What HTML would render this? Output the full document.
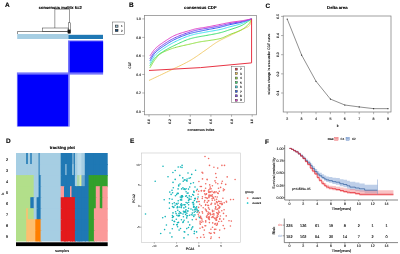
<!DOCTYPE html>
<html><head><meta charset="utf-8"><style>
html,body{margin:0;padding:0;background:#fff;}
svg{display:block;will-change:transform;}
text{font-family:"Liberation Sans",sans-serif;text-rendering:geometricPrecision;}
</style></head><body>
<svg width="400" height="254" viewBox="0 0 400 254">
<rect x="0" y="0" width="400" height="254" fill="#fff"/>
<text transform="translate(5 7.2) scale(0.1)" font-size="65.00" font-weight="bold" text-anchor="start" fill="#000" stroke="#000" stroke-width="1.20">A</text>
<text transform="translate(38.7 8.6) scale(0.1)" font-size="41.00" font-weight="bold" text-anchor="start" fill="#000" stroke="#000" stroke-width="1.20">consensus matrix k=2</text>
<line x1="54.8" y1="9.2" x2="69.5" y2="9.2" stroke="#222" stroke-width="0.45"/>
<line x1="54.8" y1="9.2" x2="54.8" y2="28" stroke="#222" stroke-width="0.45"/>
<line x1="69.5" y1="9.2" x2="69.5" y2="22.8" stroke="#222" stroke-width="0.45"/>
<rect x="68.4" y="22.8" width="2.2" height="10.5" fill="none" stroke="#222" stroke-width="0.45"/>
<rect x="42.5" y="28" width="25.6" height="3.5" fill="none" stroke="#222" stroke-width="0.45"/>
<polyline points="17.50,34.00 17.50,31.50 67.80,31.50" fill="none" stroke="#222" stroke-width="0.5"/>
<rect x="67.6" y="29.6" width="3.0" height="3.7" fill="#111"/>
<rect x="17.2" y="34" width="51.2" height="5.0" fill="#A6CEE3"/>
<rect x="68.4" y="34.8" width="34.6" height="4.2" fill="#1F78B4"/>
<rect x="16.9" y="72.4" width="52.8" height="54.2" fill="#7474FC"/>
<rect x="68.0" y="40.4" width="35.1" height="34.2" fill="#7474FC"/>
<rect x="17.8" y="74.6" width="50.2" height="51.6" fill="#0000FC"/>
<rect x="69.7" y="41.4" width="33.4" height="31.0" fill="#0000FC"/>
<rect x="112.3" y="22" width="12.1" height="12.3" fill="#fff" stroke="#333" stroke-width="0.4"/>
<rect x="115.3" y="25.1" width="2.7" height="2.1" fill="#A6CEE3" stroke="#222" stroke-width="0.6"/>
<rect x="115.3" y="29.3" width="2.7" height="2.1" fill="#1A4F80" stroke="#222" stroke-width="0.6"/>
<text transform="translate(121.8 27.3) scale(0.1)" font-size="30.00" text-anchor="middle" fill="#222" stroke="#222" stroke-width="1.20">1</text>
<text transform="translate(121.8 31.5) scale(0.1)" font-size="30.00" text-anchor="middle" fill="#222" stroke="#222" stroke-width="1.20">2</text>
<text transform="translate(129 6.7) scale(0.1)" font-size="65.00" font-weight="bold" text-anchor="start" fill="#000" stroke="#000" stroke-width="1.20">B</text>
<text transform="translate(200.3 9.2) scale(0.1)" font-size="43.00" font-weight="bold" text-anchor="middle" fill="#000" stroke="#000" stroke-width="1.20">consensus CDF</text>
<rect x="144.5" y="15.4" width="111.9" height="99.4" fill="none" stroke="#888" stroke-width="0.75"/>
<line x1="142.2" y1="18.9" x2="144.5" y2="18.9" stroke="#666" stroke-width="0.5"/>
<text transform="translate(141.0 20.049999999999997) scale(0.1)" font-size="34.00" text-anchor="end" fill="#111" stroke="#111" stroke-width="1.20">1.0</text>
<line x1="142.2" y1="37.42" x2="144.5" y2="37.42" stroke="#666" stroke-width="0.5"/>
<text transform="translate(141.0 38.57) scale(0.1)" font-size="34.00" text-anchor="end" fill="#111" stroke="#111" stroke-width="1.20">0.8</text>
<line x1="142.2" y1="55.94" x2="144.5" y2="55.94" stroke="#666" stroke-width="0.5"/>
<text transform="translate(141.0 57.089999999999996) scale(0.1)" font-size="34.00" text-anchor="end" fill="#111" stroke="#111" stroke-width="1.20">0.6</text>
<line x1="142.2" y1="74.46000000000001" x2="144.5" y2="74.46000000000001" stroke="#666" stroke-width="0.5"/>
<text transform="translate(141.0 75.61000000000001) scale(0.1)" font-size="34.00" text-anchor="end" fill="#111" stroke="#111" stroke-width="1.20">0.4</text>
<line x1="142.2" y1="92.97999999999999" x2="144.5" y2="92.97999999999999" stroke="#666" stroke-width="0.5"/>
<text transform="translate(141.0 94.13) scale(0.1)" font-size="34.00" text-anchor="end" fill="#111" stroke="#111" stroke-width="1.20">0.2</text>
<line x1="142.2" y1="111.5" x2="144.5" y2="111.5" stroke="#666" stroke-width="0.5"/>
<text transform="translate(141.0 112.65) scale(0.1)" font-size="34.00" text-anchor="end" fill="#111" stroke="#111" stroke-width="1.20">0.0</text>
<text transform="translate(131.4 65.3) rotate(-90) scale(0.1)" font-size="34.00" text-anchor="middle" fill="#111" stroke="#111" stroke-width="1.20">CDF</text>
<line x1="149.0" y1="114.8" x2="149.0" y2="116.8" stroke="#666" stroke-width="0.5"/>
<text transform="translate(150.2 121.4) rotate(-90) scale(0.1)" font-size="34.00" text-anchor="middle" fill="#111" stroke="#111" stroke-width="1.20">0.0</text>
<line x1="169.64" y1="114.8" x2="169.64" y2="116.8" stroke="#666" stroke-width="0.5"/>
<text transform="translate(170.83999999999997 121.4) rotate(-90) scale(0.1)" font-size="34.00" text-anchor="middle" fill="#111" stroke="#111" stroke-width="1.20">0.2</text>
<line x1="190.28" y1="114.8" x2="190.28" y2="116.8" stroke="#666" stroke-width="0.5"/>
<text transform="translate(191.48 121.4) rotate(-90) scale(0.1)" font-size="34.00" text-anchor="middle" fill="#111" stroke="#111" stroke-width="1.20">0.4</text>
<line x1="210.92000000000002" y1="114.8" x2="210.92000000000002" y2="116.8" stroke="#666" stroke-width="0.5"/>
<text transform="translate(212.12 121.4) rotate(-90) scale(0.1)" font-size="34.00" text-anchor="middle" fill="#111" stroke="#111" stroke-width="1.20">0.6</text>
<line x1="231.56" y1="114.8" x2="231.56" y2="116.8" stroke="#666" stroke-width="0.5"/>
<text transform="translate(232.76 121.4) rotate(-90) scale(0.1)" font-size="34.00" text-anchor="middle" fill="#111" stroke="#111" stroke-width="1.20">0.8</text>
<line x1="252.2" y1="114.8" x2="252.2" y2="116.8" stroke="#666" stroke-width="0.5"/>
<text transform="translate(253.39999999999998 121.4) rotate(-90) scale(0.1)" font-size="34.00" text-anchor="middle" fill="#111" stroke="#111" stroke-width="1.20">1.0</text>
<text transform="translate(201 131.2) scale(0.1)" font-size="36.00" text-anchor="middle" fill="#111" stroke="#111" stroke-width="1.20">consensus index</text>
<polyline points="149.00,80.48 150.75,79.65 152.51,78.82 154.26,77.99 156.02,77.16 157.77,76.34 159.53,75.51 161.28,74.68 163.04,73.85 164.79,73.01 166.54,72.17 168.30,71.33 170.05,70.48 171.71,69.68 173.37,68.89 175.03,68.11 176.69,67.32 178.35,66.54 180.01,65.75 181.67,64.94 183.33,64.12 184.99,63.27 186.65,62.41 188.31,61.51 189.97,60.57 191.23,59.83 192.48,59.06 193.74,58.26 194.99,57.43 196.25,56.59 197.50,55.73 198.76,54.86 200.02,53.98 201.27,53.10 202.53,52.22 203.78,51.34 205.04,50.48 206.08,49.75 207.12,49.01 208.16,48.26 209.20,47.50 210.24,46.73 211.28,45.97 212.32,45.22 213.36,44.48 214.40,43.76 215.44,43.07 216.48,42.40 217.52,41.77 218.57,41.18 219.61,40.60 220.65,40.05 221.69,39.52 222.73,39.00 223.77,38.49 224.81,37.98 225.85,37.49 226.89,36.99 227.93,36.49 228.97,35.99 230.01,35.48 231.26,34.86 232.51,34.26 233.75,33.67 235.00,33.08 236.25,32.50 237.49,31.91 238.74,31.32 239.99,30.72 241.24,30.11 242.48,29.48 243.73,28.83 244.98,28.16 245.36,27.96 245.75,27.78 246.14,27.61 246.52,27.45 246.91,27.28 247.30,27.10 247.69,26.91 248.07,26.68 248.46,26.43 248.85,26.13 249.23,25.78 249.62,25.38 249.78,25.14 249.95,24.80 250.11,24.36 250.27,23.86 250.44,23.29 250.60,22.68 250.76,22.04 250.93,21.38 251.09,20.72 251.25,20.08 251.42,19.47 251.58,18.90" fill="none" stroke="#F0C050" stroke-width="0.8" stroke-linejoin="round"/>
<polyline points="149.83,67.98 150.26,67.27 150.69,66.55 151.12,65.82 151.55,65.08 151.98,64.34 152.41,63.61 152.84,62.89 153.27,62.19 153.70,61.50 154.13,60.85 154.56,60.23 154.99,59.64 155.41,59.09 155.83,58.55 156.25,58.01 156.67,57.49 157.09,56.98 157.51,56.48 157.94,56.01 158.36,55.56 158.78,55.14 159.20,54.76 159.62,54.40 160.04,54.09 160.88,53.53 161.71,53.01 162.55,52.53 163.38,52.09 164.21,51.68 165.05,51.29 165.88,50.93 166.72,50.58 167.55,50.24 168.38,49.92 169.22,49.60 170.05,49.27 170.47,49.11 170.88,48.96 171.29,48.81 171.70,48.66 172.12,48.52 172.53,48.38 172.94,48.24 173.36,48.11 173.77,47.98 174.18,47.85 174.59,47.73 175.01,47.61 176.25,47.26 177.50,46.93 178.75,46.62 179.99,46.31 181.24,46.02 182.49,45.74 183.74,45.46 184.98,45.19 186.23,44.92 187.48,44.64 188.72,44.37 189.97,44.09 190.80,43.90 191.64,43.70 192.47,43.50 193.31,43.30 194.14,43.11 194.98,42.91 195.81,42.72 196.64,42.54 197.48,42.36 198.31,42.18 199.15,42.02 199.98,41.86 200.81,41.72 201.65,41.59 202.48,41.46 203.32,41.34 204.15,41.22 204.99,41.10 205.82,40.99 206.65,40.87 207.49,40.76 208.32,40.64 209.16,40.51 209.99,40.38 210.83,40.25 211.66,40.12 212.49,40.00 213.33,39.87 214.16,39.74 215.00,39.61 215.83,39.47 216.66,39.33 217.50,39.17 218.33,39.00 219.17,38.82 220.00,38.62 220.84,38.40 221.67,38.12 222.50,37.82 223.34,37.48 224.17,37.13 225.01,36.75 225.84,36.36 226.68,35.97 227.51,35.58 228.34,35.19 229.18,34.81 230.01,34.46 231.00,34.06 231.99,33.68 232.98,33.31 233.97,32.95 234.96,32.60 235.95,32.23 236.94,31.85 237.92,31.46 238.91,31.03 239.90,30.58 240.89,30.09 241.88,29.55 242.48,29.20 243.08,28.83 243.69,28.45 244.29,28.04 244.89,27.60 245.49,27.14 246.09,26.64 246.70,26.10 247.30,25.53 247.90,24.91 248.50,24.24 249.10,23.53 249.31,23.26 249.52,22.94 249.72,22.60 249.93,22.22 250.14,21.83 250.34,21.41 250.55,20.99 250.76,20.56 250.96,20.13 251.17,19.71 251.37,19.30 251.58,18.90" fill="none" stroke="#90E040" stroke-width="1.0" stroke-linejoin="round"/>
<polyline points="149.83,65.66 150.26,64.99 150.69,64.29 151.12,63.58 151.55,62.85 151.98,62.13 152.41,61.41 152.84,60.71 153.27,60.04 153.70,59.40 154.13,58.81 154.56,58.27 154.99,57.79 155.82,56.96 156.65,56.19 157.49,55.46 158.32,54.79 159.16,54.15 159.99,53.56 160.82,52.99 161.66,52.44 162.49,51.91 163.33,51.40 164.16,50.89 165.00,50.38 165.83,49.88 166.66,49.40 167.50,48.94 168.33,48.49 169.17,48.05 170.00,47.62 170.84,47.20 171.67,46.79 172.50,46.39 173.34,45.99 174.17,45.59 175.01,45.20 176.25,44.61 177.50,44.01 178.75,43.42 179.99,42.83 181.24,42.25 182.49,41.69 183.74,41.14 184.98,40.61 186.23,40.11 187.48,39.64 188.72,39.21 189.97,38.81 190.47,38.66 190.97,38.52 191.47,38.38 191.97,38.25 192.46,38.12 192.96,38.00 193.46,37.88 193.96,37.76 194.46,37.65 194.96,37.54 195.46,37.43 195.96,37.33 196.77,37.16 197.59,37.00 198.41,36.85 199.22,36.70 200.04,36.56 200.86,36.42 201.68,36.28 202.49,36.14 203.31,36.00 204.13,35.86 204.94,35.72 205.76,35.57 206.95,35.35 208.13,35.14 209.32,34.92 210.51,34.71 211.69,34.50 212.88,34.28 214.07,34.06 215.25,33.83 216.44,33.59 217.63,33.34 218.81,33.07 220.00,32.79 220.84,32.58 221.67,32.35 222.50,32.11 223.34,31.86 224.17,31.60 225.01,31.33 225.84,31.05 226.68,30.77 227.51,30.49 228.34,30.21 229.18,29.92 230.01,29.64 231.00,29.32 231.99,29.00 232.98,28.68 233.97,28.36 234.96,28.04 235.95,27.72 236.94,27.38 237.92,27.02 238.91,26.65 239.90,26.25 240.89,25.83 241.88,25.38 242.69,24.98 243.50,24.52 244.31,24.03 245.11,23.50 245.92,22.95 246.73,22.38 247.54,21.79 248.35,21.20 249.16,20.61 249.96,20.02 250.77,19.45 251.58,18.90" fill="none" stroke="#40E070" stroke-width="1.0" stroke-linejoin="round"/>
<polyline points="149.83,63.35 150.26,62.67 150.69,61.96 151.12,61.24 151.55,60.51 151.98,59.78 152.41,59.06 152.84,58.36 153.27,57.68 153.70,57.03 154.13,56.43 154.56,55.88 154.99,55.38 155.82,54.52 156.65,53.72 157.49,52.97 158.32,52.27 159.16,51.61 159.99,50.99 160.82,50.39 161.66,49.82 162.49,49.26 163.33,48.71 164.16,48.16 165.00,47.61 165.83,47.06 166.66,46.52 167.50,45.99 168.33,45.47 169.17,44.96 170.00,44.47 170.84,43.99 171.67,43.52 172.50,43.06 173.34,42.62 174.17,42.19 175.01,41.77 176.25,41.17 177.50,40.57 178.75,39.99 179.99,39.42 181.24,38.87 182.49,38.34 183.74,37.82 184.98,37.32 186.23,36.85 187.48,36.40 188.72,35.97 189.97,35.57 190.47,35.41 190.97,35.27 191.47,35.12 191.97,34.98 192.46,34.85 192.96,34.71 193.46,34.59 193.96,34.46 194.46,34.34 194.96,34.22 195.46,34.11 195.96,33.99 196.77,33.82 197.59,33.65 198.41,33.48 199.22,33.32 200.04,33.17 200.86,33.02 201.68,32.88 202.49,32.73 203.31,32.58 204.13,32.44 204.94,32.29 205.76,32.14 206.95,31.93 208.13,31.72 209.32,31.51 210.51,31.31 211.69,31.11 212.88,30.91 214.07,30.71 215.25,30.49 216.44,30.28 217.63,30.05 218.81,29.81 220.00,29.55 220.84,29.36 221.67,29.15 222.50,28.93 223.34,28.70 224.17,28.47 225.01,28.23 225.84,27.98 226.68,27.73 227.51,27.49 228.34,27.24 229.18,27.00 230.01,26.77 231.00,26.50 231.99,26.25 232.98,26.00 233.97,25.75 234.96,25.51 235.95,25.26 236.94,25.01 237.92,24.74 238.91,24.47 239.90,24.18 240.89,23.86 241.88,23.53 242.69,23.23 243.50,22.90 244.31,22.55 245.11,22.17 245.92,21.78 246.73,21.37 247.54,20.95 248.35,20.53 249.16,20.12 249.96,19.70 250.77,19.29 251.58,18.90" fill="none" stroke="#40E0F0" stroke-width="1.0" stroke-linejoin="round"/>
<polyline points="149.83,61.03 150.26,60.35 150.69,59.63 151.12,58.90 151.55,58.16 151.98,57.42 152.41,56.69 152.84,55.97 153.27,55.29 153.70,54.63 154.13,54.02 154.56,53.47 154.99,52.98 155.82,52.12 156.65,51.32 157.49,50.59 158.32,49.90 159.16,49.25 159.99,48.63 160.82,48.05 161.66,47.48 162.49,46.93 163.33,46.39 164.16,45.84 165.00,45.29 165.83,44.74 166.66,44.19 167.50,43.65 168.33,43.12 169.17,42.60 170.00,42.09 170.84,41.59 171.67,41.11 172.50,40.65 173.34,40.20 174.17,39.77 175.01,39.36 176.25,38.78 177.50,38.21 178.75,37.66 179.99,37.12 181.24,36.60 182.49,36.11 183.74,35.63 184.98,35.17 186.23,34.73 187.48,34.31 188.72,33.91 189.97,33.53 190.47,33.39 190.97,33.25 191.47,33.12 191.97,32.99 192.46,32.86 192.96,32.74 193.46,32.62 193.96,32.50 194.46,32.39 194.96,32.28 195.46,32.16 195.96,32.05 196.77,31.87 197.59,31.69 198.41,31.51 199.22,31.34 200.04,31.17 200.86,31.00 201.68,30.83 202.49,30.67 203.31,30.50 204.13,30.34 204.94,30.18 205.76,30.01 206.95,29.78 208.13,29.55 209.32,29.32 210.51,29.10 211.69,28.88 212.88,28.66 214.07,28.44 215.25,28.21 216.44,27.98 217.63,27.74 218.81,27.49 220.00,27.23 220.84,27.04 221.67,26.84 222.50,26.62 223.34,26.40 224.17,26.18 225.01,25.95 225.84,25.72 226.68,25.49 227.51,25.27 228.34,25.05 229.18,24.84 230.01,24.64 231.00,24.42 231.99,24.21 232.98,24.01 233.97,23.81 234.96,23.62 235.95,23.43 236.94,23.24 237.92,23.04 238.91,22.84 239.90,22.62 240.89,22.39 241.88,22.14 242.69,21.92 243.50,21.68 244.31,21.43 245.11,21.17 245.92,20.89 246.73,20.61 247.54,20.32 248.35,20.03 249.16,19.74 249.96,19.46 250.77,19.17 251.58,18.90" fill="none" stroke="#3060F0" stroke-width="1.0" stroke-linejoin="round"/>
<polyline points="149.83,58.72 150.26,58.09 150.69,57.44 151.12,56.77 151.55,56.10 151.98,55.43 152.41,54.76 152.84,54.11 153.27,53.48 153.70,52.88 154.13,52.31 154.56,51.79 154.99,51.31 155.82,50.46 156.65,49.67 157.49,48.92 158.32,48.21 159.16,47.53 159.99,46.89 160.82,46.28 161.66,45.69 162.49,45.11 163.33,44.55 164.16,43.99 165.00,43.44 165.83,42.89 166.66,42.35 167.50,41.82 168.33,41.31 169.17,40.81 170.00,40.32 170.84,39.84 171.67,39.38 172.50,38.93 173.34,38.50 174.17,38.09 175.01,37.70 176.25,37.13 177.50,36.59 178.75,36.07 179.99,35.57 181.24,35.09 182.49,34.62 183.74,34.16 184.98,33.72 186.23,33.29 187.48,32.87 188.72,32.46 189.97,32.05 190.47,31.89 190.97,31.73 191.47,31.57 191.97,31.41 192.46,31.25 192.96,31.10 193.46,30.95 193.96,30.81 194.46,30.67 194.96,30.54 195.46,30.41 195.96,30.29 196.77,30.10 197.59,29.93 198.41,29.76 199.22,29.60 200.04,29.45 200.86,29.30 201.68,29.16 202.49,29.02 203.31,28.88 204.13,28.73 204.94,28.59 205.76,28.44 206.95,28.22 208.13,28.01 209.32,27.80 210.51,27.59 211.69,27.38 212.88,27.18 214.07,26.97 215.25,26.75 216.44,26.54 217.63,26.31 218.81,26.08 220.00,25.84 220.84,25.67 221.67,25.48 222.50,25.29 223.34,25.09 224.17,24.88 225.01,24.68 225.84,24.47 226.68,24.27 227.51,24.07 228.34,23.88 229.18,23.70 230.01,23.53 231.00,23.34 231.99,23.17 232.98,23.00 233.97,22.84 234.96,22.68 235.95,22.53 236.94,22.38 237.92,22.22 238.91,22.05 239.90,21.88 240.89,21.69 241.88,21.49 242.69,21.32 243.50,21.12 244.31,20.92 245.11,20.71 245.92,20.49 246.73,20.27 247.54,20.04 248.35,19.81 249.16,19.57 249.96,19.34 250.77,19.12 251.58,18.90" fill="none" stroke="#8040F0" stroke-width="1.0" stroke-linejoin="round"/>
<polyline points="149.83,55.94 150.26,55.34 150.69,54.73 151.12,54.10 151.55,53.46 151.98,52.82 152.41,52.19 152.84,51.58 153.27,50.98 153.70,50.41 154.13,49.87 154.56,49.36 154.99,48.90 155.82,48.08 156.65,47.31 157.49,46.59 158.32,45.90 159.16,45.25 159.99,44.63 160.82,44.03 161.66,43.45 162.49,42.88 163.33,42.33 164.16,41.77 165.00,41.22 165.83,40.66 166.66,40.10 167.50,39.55 168.33,39.00 169.17,38.47 170.00,37.95 170.84,37.45 171.67,36.96 172.50,36.50 173.34,36.07 174.17,35.66 175.01,35.29 176.25,34.78 177.50,34.30 178.75,33.85 179.99,33.43 181.24,33.02 182.49,32.64 183.74,32.27 184.98,31.91 186.23,31.55 187.48,31.20 188.72,30.84 189.97,30.48 190.47,30.33 190.97,30.18 191.47,30.02 191.97,29.87 192.46,29.72 192.96,29.58 193.46,29.43 193.96,29.29 194.46,29.16 194.96,29.03 195.46,28.92 195.96,28.81 196.77,28.65 197.59,28.50 198.41,28.36 199.22,28.22 200.04,28.10 200.86,27.98 201.68,27.86 202.49,27.75 203.31,27.63 204.13,27.50 204.94,27.37 205.76,27.23 206.95,27.02 208.13,26.81 209.32,26.58 210.51,26.35 211.69,26.12 212.88,25.89 214.07,25.65 215.25,25.41 216.44,25.17 217.63,24.93 218.81,24.69 220.00,24.46 220.84,24.29 221.67,24.11 222.50,23.94 223.34,23.76 224.17,23.58 225.01,23.40 225.84,23.22 226.68,23.05 227.51,22.88 228.34,22.72 229.18,22.56 230.01,22.42 231.00,22.26 231.99,22.11 232.98,21.97 233.97,21.84 234.96,21.71 235.95,21.58 236.94,21.45 237.92,21.32 238.91,21.19 239.90,21.05 240.89,20.91 241.88,20.75 242.69,20.62 243.50,20.48 244.31,20.33 245.11,20.18 245.92,20.02 246.73,19.86 247.54,19.70 248.35,19.54 249.16,19.38 249.96,19.22 250.77,19.06 251.58,18.90" fill="none" stroke="#E040C8" stroke-width="1.0" stroke-linejoin="round"/>
<polyline points="149.00,70.48 200.60,67.61 251.58,62.88 251.58,18.90" fill="none" stroke="#E83444" stroke-width="1.0"/>
<rect x="231.4" y="66.2" width="12.8" height="36.5" fill="#fff" stroke="#444" stroke-width="0.4"/>
<rect x="235.3" y="68.15" width="2.0" height="2.0" fill="#E83444" stroke="#333" stroke-width="0.45"/>
<text transform="translate(240.0 70.3) scale(0.1)" font-size="31.00" text-anchor="start" fill="#111" stroke="#111" stroke-width="1.20">2</text>
<rect x="235.3" y="72.59" width="2.0" height="2.0" fill="#F0C050" stroke="#333" stroke-width="0.45"/>
<text transform="translate(240.0 74.74) scale(0.1)" font-size="31.00" text-anchor="start" fill="#111" stroke="#111" stroke-width="1.20">3</text>
<rect x="235.3" y="77.03" width="2.0" height="2.0" fill="#90E040" stroke="#333" stroke-width="0.45"/>
<text transform="translate(240.0 79.17999999999999) scale(0.1)" font-size="31.00" text-anchor="start" fill="#111" stroke="#111" stroke-width="1.20">4</text>
<rect x="235.3" y="81.47000000000001" width="2.0" height="2.0" fill="#40E070" stroke="#333" stroke-width="0.45"/>
<text transform="translate(240.0 83.62) scale(0.1)" font-size="31.00" text-anchor="start" fill="#111" stroke="#111" stroke-width="1.20">5</text>
<rect x="235.3" y="85.91000000000001" width="2.0" height="2.0" fill="#40E0F0" stroke="#333" stroke-width="0.45"/>
<text transform="translate(240.0 88.06) scale(0.1)" font-size="31.00" text-anchor="start" fill="#111" stroke="#111" stroke-width="1.20">6</text>
<rect x="235.3" y="90.35000000000001" width="2.0" height="2.0" fill="#3060F0" stroke="#333" stroke-width="0.45"/>
<text transform="translate(240.0 92.5) scale(0.1)" font-size="31.00" text-anchor="start" fill="#111" stroke="#111" stroke-width="1.20">7</text>
<rect x="235.3" y="94.79" width="2.0" height="2.0" fill="#8040F0" stroke="#333" stroke-width="0.45"/>
<text transform="translate(240.0 96.94) scale(0.1)" font-size="31.00" text-anchor="start" fill="#111" stroke="#111" stroke-width="1.20">8</text>
<rect x="235.3" y="99.23" width="2.0" height="2.0" fill="#E040C8" stroke="#333" stroke-width="0.45"/>
<text transform="translate(240.0 101.38) scale(0.1)" font-size="31.00" text-anchor="start" fill="#111" stroke="#111" stroke-width="1.20">9</text>
<text transform="translate(265.5 7.7) scale(0.1)" font-size="65.00" font-weight="bold" text-anchor="start" fill="#000" stroke="#000" stroke-width="1.20">C</text>
<text transform="translate(337.3 9.2) scale(0.1)" font-size="43.00" font-weight="bold" text-anchor="middle" fill="#000" stroke="#000" stroke-width="1.20">Delta area</text>
<rect x="283.2" y="16.0" width="107.8" height="96.0" fill="none" stroke="#777" stroke-width="0.7"/>
<line x1="281" y1="16.4" x2="283.2" y2="16.4" stroke="#666" stroke-width="0.5"/>
<text transform="translate(278.6 16.4) rotate(-90) scale(0.1)" font-size="34.00" text-anchor="middle" fill="#111" stroke="#111" stroke-width="1.20">0.5</text>
<line x1="281" y1="35.55" x2="283.2" y2="35.55" stroke="#666" stroke-width="0.5"/>
<text transform="translate(278.6 35.55) rotate(-90) scale(0.1)" font-size="34.00" text-anchor="middle" fill="#111" stroke="#111" stroke-width="1.20">0.4</text>
<line x1="281" y1="54.699999999999996" x2="283.2" y2="54.699999999999996" stroke="#666" stroke-width="0.5"/>
<text transform="translate(278.6 54.699999999999996) rotate(-90) scale(0.1)" font-size="34.00" text-anchor="middle" fill="#111" stroke="#111" stroke-width="1.20">0.3</text>
<line x1="281" y1="73.85" x2="283.2" y2="73.85" stroke="#666" stroke-width="0.5"/>
<text transform="translate(278.6 73.85) rotate(-90) scale(0.1)" font-size="34.00" text-anchor="middle" fill="#111" stroke="#111" stroke-width="1.20">0.2</text>
<line x1="281" y1="93.0" x2="283.2" y2="93.0" stroke="#666" stroke-width="0.5"/>
<text transform="translate(278.6 93.0) rotate(-90) scale(0.1)" font-size="34.00" text-anchor="middle" fill="#111" stroke="#111" stroke-width="1.20">0.1</text>
<text transform="translate(270.4 64.25) rotate(-90) scale(0.1)" font-size="34.00" text-anchor="middle" fill="#111" stroke="#111" stroke-width="1.20">relative change in area under CDF curve</text>
<line x1="287.2" y1="112" x2="287.2" y2="114.2" stroke="#666" stroke-width="0.5"/>
<text transform="translate(287.2 119.9) scale(0.1)" font-size="36.00" text-anchor="middle" fill="#111" stroke="#111" stroke-width="1.20">2</text>
<line x1="301.59999999999997" y1="112" x2="301.59999999999997" y2="114.2" stroke="#666" stroke-width="0.5"/>
<text transform="translate(301.59999999999997 119.9) scale(0.1)" font-size="36.00" text-anchor="middle" fill="#111" stroke="#111" stroke-width="1.20">3</text>
<line x1="316.0" y1="112" x2="316.0" y2="114.2" stroke="#666" stroke-width="0.5"/>
<text transform="translate(316.0 119.9) scale(0.1)" font-size="36.00" text-anchor="middle" fill="#111" stroke="#111" stroke-width="1.20">4</text>
<line x1="330.4" y1="112" x2="330.4" y2="114.2" stroke="#666" stroke-width="0.5"/>
<text transform="translate(330.4 119.9) scale(0.1)" font-size="36.00" text-anchor="middle" fill="#111" stroke="#111" stroke-width="1.20">5</text>
<line x1="344.8" y1="112" x2="344.8" y2="114.2" stroke="#666" stroke-width="0.5"/>
<text transform="translate(344.8 119.9) scale(0.1)" font-size="36.00" text-anchor="middle" fill="#111" stroke="#111" stroke-width="1.20">6</text>
<line x1="359.2" y1="112" x2="359.2" y2="114.2" stroke="#666" stroke-width="0.5"/>
<text transform="translate(359.2 119.9) scale(0.1)" font-size="36.00" text-anchor="middle" fill="#111" stroke="#111" stroke-width="1.20">7</text>
<line x1="373.6" y1="112" x2="373.6" y2="114.2" stroke="#666" stroke-width="0.5"/>
<text transform="translate(373.6 119.9) scale(0.1)" font-size="36.00" text-anchor="middle" fill="#111" stroke="#111" stroke-width="1.20">8</text>
<line x1="388.0" y1="112" x2="388.0" y2="114.2" stroke="#666" stroke-width="0.5"/>
<text transform="translate(388.0 119.9) scale(0.1)" font-size="36.00" text-anchor="middle" fill="#111" stroke="#111" stroke-width="1.20">9</text>
<polyline points="287.20,19.03 301.60,55.03 316.00,81.27 330.40,99.08 344.80,105.01 359.20,106.93 373.60,108.65 388.00,108.65" fill="none" stroke="#333" stroke-width="0.55"/>
<circle cx="287.2" cy="19.03099999999999" r="0.6" fill="#222"/>
<circle cx="301.59999999999997" cy="55.032999999999994" r="0.6" fill="#222"/>
<circle cx="316.0" cy="81.26849999999999" r="0.6" fill="#222"/>
<circle cx="330.4" cy="99.07799999999999" r="0.6" fill="#222"/>
<circle cx="344.8" cy="105.0145" r="0.6" fill="#222"/>
<circle cx="359.2" cy="106.92949999999999" r="0.6" fill="#222"/>
<circle cx="373.6" cy="108.65299999999999" r="0.6" fill="#222"/>
<circle cx="388.0" cy="108.65299999999999" r="0.6" fill="#222"/>
<text transform="translate(337.6 127.2) scale(0.1)" font-size="36.00" text-anchor="middle" fill="#111" stroke="#111" stroke-width="1.20">k</text>
<text transform="translate(5.9 143.4) scale(0.1)" font-size="65.00" font-weight="bold" text-anchor="start" fill="#000" stroke="#000" stroke-width="1.20">D</text>
<text transform="translate(62.3 148.5) scale(0.1)" font-size="42.00" font-weight="bold" text-anchor="middle" fill="#000" stroke="#000" stroke-width="1.20">tracking plot</text>
<rect x="16" y="153.0" width="11.2" height="12.06" fill="#A6CEE3"/>
<rect x="26.2" y="153.0" width="2.6" height="12.06" fill="#1F78B4"/>
<rect x="27.8" y="153.0" width="3.5" height="12.06" fill="#A6CEE3"/>
<rect x="30.3" y="153.0" width="2.4" height="12.06" fill="#1F78B4"/>
<rect x="31.7" y="153.0" width="3.0" height="12.06" fill="#A6CEE3"/>
<rect x="33.7" y="153.0" width="2.6" height="12.06" fill="#A6CEE3"/>
<rect x="35.3" y="153.0" width="2.3" height="12.06" fill="#A6CEE3"/>
<rect x="36.6" y="153.0" width="3.0" height="12.06" fill="#A6CEE3"/>
<rect x="38.6" y="153.0" width="2.0" height="12.06" fill="#1F78B4"/>
<rect x="39.6" y="153.0" width="2.0" height="12.06" fill="#A6CEE3"/>
<rect x="40.6" y="153.0" width="21.1" height="12.06" fill="#A6CEE3"/>
<rect x="60.7" y="153.0" width="4.3" height="12.06" fill="#1F78B4"/>
<rect x="64" y="153.0" width="2.1" height="12.06" fill="#1F78B4"/>
<rect x="65.1" y="153.0" width="2.6" height="12.06" fill="#1F78B4"/>
<rect x="66.7" y="153.0" width="4.3" height="12.06" fill="#1F78B4"/>
<rect x="70" y="153.0" width="2.5" height="12.06" fill="#1F78B4"/>
<rect x="71.5" y="153.0" width="1.7" height="12.06" fill="#1F78B4"/>
<rect x="72.2" y="153.0" width="2.5" height="12.06" fill="#7FB3D5"/>
<rect x="73.7" y="153.0" width="2.2" height="12.06" fill="#1F78B4"/>
<rect x="74.9" y="153.0" width="3.5" height="12.06" fill="#A6CEE3"/>
<rect x="77.4" y="153.0" width="2.2" height="12.06" fill="#BCDCEB"/>
<rect x="78.6" y="153.0" width="1.9" height="12.06" fill="#BCDCEB"/>
<rect x="79.5" y="153.0" width="2.9" height="12.06" fill="#BCDCEB"/>
<rect x="81.4" y="153.0" width="4.4" height="12.06" fill="#A6CEE3"/>
<rect x="84.8" y="153.0" width="4.8" height="12.06" fill="#1F78B4"/>
<rect x="88.6" y="153.0" width="6.3" height="12.06" fill="#1F78B4"/>
<rect x="93.9" y="153.0" width="2.9" height="12.06" fill="#1F78B4"/>
<rect x="95.8" y="153.0" width="5.0" height="12.06" fill="#1F78B4"/>
<rect x="99.8" y="153.0" width="3.5" height="12.06" fill="#1F78B4"/>
<rect x="102.3" y="153.0" width="5.4" height="12.06" fill="#1F78B4"/>
<rect x="16" y="164.06" width="11.2" height="12.06" fill="#A6CEE3"/>
<rect x="26.2" y="164.06" width="2.6" height="12.06" fill="#A6CEE3"/>
<rect x="27.8" y="164.06" width="3.5" height="12.06" fill="#A6CEE3"/>
<rect x="30.3" y="164.06" width="2.4" height="12.06" fill="#A6CEE3"/>
<rect x="31.7" y="164.06" width="3.0" height="12.06" fill="#A6CEE3"/>
<rect x="33.7" y="164.06" width="2.6" height="12.06" fill="#A6CEE3"/>
<rect x="35.3" y="164.06" width="2.3" height="12.06" fill="#A6CEE3"/>
<rect x="36.6" y="164.06" width="3.0" height="12.06" fill="#A6CEE3"/>
<rect x="38.6" y="164.06" width="2.0" height="12.06" fill="#1F78B4"/>
<rect x="39.6" y="164.06" width="2.0" height="12.06" fill="#A6CEE3"/>
<rect x="40.6" y="164.06" width="21.1" height="12.06" fill="#A6CEE3"/>
<rect x="60.7" y="164.06" width="4.3" height="12.06" fill="#1F78B4"/>
<rect x="64" y="164.06" width="2.1" height="12.06" fill="#1F78B4"/>
<rect x="65.1" y="164.06" width="2.6" height="12.06" fill="#7FB3D5"/>
<rect x="66.7" y="164.06" width="4.3" height="12.06" fill="#1F78B4"/>
<rect x="70" y="164.06" width="2.5" height="12.06" fill="#1F78B4"/>
<rect x="71.5" y="164.06" width="1.7" height="12.06" fill="#1F78B4"/>
<rect x="72.2" y="164.06" width="2.5" height="12.06" fill="#A6CEE3"/>
<rect x="73.7" y="164.06" width="2.2" height="12.06" fill="#1F78B4"/>
<rect x="74.9" y="164.06" width="3.5" height="12.06" fill="#A6CEE3"/>
<rect x="77.4" y="164.06" width="2.2" height="12.06" fill="#BCDCEB"/>
<rect x="78.6" y="164.06" width="1.9" height="12.06" fill="#BCDCEB"/>
<rect x="79.5" y="164.06" width="2.9" height="12.06" fill="#BCDCEB"/>
<rect x="81.4" y="164.06" width="4.4" height="12.06" fill="#A6CEE3"/>
<rect x="84.8" y="164.06" width="4.8" height="12.06" fill="#1F78B4"/>
<rect x="88.6" y="164.06" width="6.3" height="12.06" fill="#1F78B4"/>
<rect x="93.9" y="164.06" width="2.9" height="12.06" fill="#1F78B4"/>
<rect x="95.8" y="164.06" width="5.0" height="12.06" fill="#1F78B4"/>
<rect x="99.8" y="164.06" width="3.5" height="12.06" fill="#1F78B4"/>
<rect x="102.3" y="164.06" width="5.4" height="12.06" fill="#1F78B4"/>
<rect x="16" y="175.12" width="11.2" height="12.06" fill="#B2DF8A"/>
<rect x="26.2" y="175.12" width="2.6" height="12.06" fill="#B2DF8A"/>
<rect x="27.8" y="175.12" width="3.5" height="12.06" fill="#B2DF8A"/>
<rect x="30.3" y="175.12" width="2.4" height="12.06" fill="#B2DF8A"/>
<rect x="31.7" y="175.12" width="3.0" height="12.06" fill="#B2DF8A"/>
<rect x="33.7" y="175.12" width="2.6" height="12.06" fill="#A6CEE3"/>
<rect x="35.3" y="175.12" width="2.3" height="12.06" fill="#A6CEE3"/>
<rect x="36.6" y="175.12" width="3.0" height="12.06" fill="#A6CEE3"/>
<rect x="38.6" y="175.12" width="2.0" height="12.06" fill="#1F78B4"/>
<rect x="39.6" y="175.12" width="2.0" height="12.06" fill="#1F78B4"/>
<rect x="40.6" y="175.12" width="21.1" height="12.06" fill="#A6CEE3"/>
<rect x="60.7" y="175.12" width="4.3" height="12.06" fill="#1F78B4"/>
<rect x="64" y="175.12" width="2.1" height="12.06" fill="#1F78B4"/>
<rect x="65.1" y="175.12" width="2.6" height="12.06" fill="#1F78B4"/>
<rect x="66.7" y="175.12" width="4.3" height="12.06" fill="#1F78B4"/>
<rect x="70" y="175.12" width="2.5" height="12.06" fill="#1F78B4"/>
<rect x="71.5" y="175.12" width="1.7" height="12.06" fill="#1F78B4"/>
<rect x="72.2" y="175.12" width="2.5" height="12.06" fill="#1F78B4"/>
<rect x="73.7" y="175.12" width="2.2" height="12.06" fill="#1F78B4"/>
<rect x="74.9" y="175.12" width="3.5" height="12.06" fill="#A6CEE3"/>
<rect x="77.4" y="175.12" width="2.2" height="12.06" fill="#B2DF8A"/>
<rect x="78.6" y="175.12" width="1.9" height="12.06" fill="#A6CEE3"/>
<rect x="79.5" y="175.12" width="2.9" height="12.06" fill="#DDEE99"/>
<rect x="81.4" y="175.12" width="4.4" height="12.06" fill="#6AA8D0"/>
<rect x="84.8" y="175.12" width="4.8" height="12.06" fill="#1F78B4"/>
<rect x="88.6" y="175.12" width="6.3" height="12.06" fill="#33A02C"/>
<rect x="93.9" y="175.12" width="2.9" height="12.06" fill="#33A02C"/>
<rect x="95.8" y="175.12" width="5.0" height="12.06" fill="#33A02C"/>
<rect x="99.8" y="175.12" width="3.5" height="12.06" fill="#33A02C"/>
<rect x="102.3" y="175.12" width="5.4" height="12.06" fill="#33A02C"/>
<rect x="16" y="186.18" width="11.2" height="12.06" fill="#B2DF8A"/>
<rect x="26.2" y="186.18" width="2.6" height="12.06" fill="#B2DF8A"/>
<rect x="27.8" y="186.18" width="3.5" height="12.06" fill="#B2DF8A"/>
<rect x="30.3" y="186.18" width="2.4" height="12.06" fill="#B2DF8A"/>
<rect x="31.7" y="186.18" width="3.0" height="12.06" fill="#B2DF8A"/>
<rect x="33.7" y="186.18" width="2.6" height="12.06" fill="#A6CEE3"/>
<rect x="35.3" y="186.18" width="2.3" height="12.06" fill="#A6CEE3"/>
<rect x="36.6" y="186.18" width="3.0" height="12.06" fill="#A6CEE3"/>
<rect x="38.6" y="186.18" width="2.0" height="12.06" fill="#1F78B4"/>
<rect x="39.6" y="186.18" width="2.0" height="12.06" fill="#1F78B4"/>
<rect x="40.6" y="186.18" width="21.1" height="12.06" fill="#A6CEE3"/>
<rect x="60.7" y="186.18" width="4.3" height="12.06" fill="#FB9A99"/>
<rect x="64" y="186.18" width="2.1" height="12.06" fill="#1F78B4"/>
<rect x="65.1" y="186.18" width="2.6" height="12.06" fill="#1F78B4"/>
<rect x="66.7" y="186.18" width="4.3" height="12.06" fill="#1F78B4"/>
<rect x="70" y="186.18" width="2.5" height="12.06" fill="#FB9A99"/>
<rect x="71.5" y="186.18" width="1.7" height="12.06" fill="#1F78B4"/>
<rect x="72.2" y="186.18" width="2.5" height="12.06" fill="#1F78B4"/>
<rect x="73.7" y="186.18" width="2.2" height="12.06" fill="#1F78B4"/>
<rect x="74.9" y="186.18" width="3.5" height="12.06" fill="#1F78B4"/>
<rect x="77.4" y="186.18" width="2.2" height="12.06" fill="#1F78B4"/>
<rect x="78.6" y="186.18" width="1.9" height="12.06" fill="#1F78B4"/>
<rect x="79.5" y="186.18" width="2.9" height="12.06" fill="#1F78B4"/>
<rect x="81.4" y="186.18" width="4.4" height="12.06" fill="#1F78B4"/>
<rect x="84.8" y="186.18" width="4.8" height="12.06" fill="#1F78B4"/>
<rect x="88.6" y="186.18" width="6.3" height="12.06" fill="#33A02C"/>
<rect x="93.9" y="186.18" width="2.9" height="12.06" fill="#33A02C"/>
<rect x="95.8" y="186.18" width="5.0" height="12.06" fill="#FB9A99"/>
<rect x="99.8" y="186.18" width="3.5" height="12.06" fill="#33A02C"/>
<rect x="102.3" y="186.18" width="5.4" height="12.06" fill="#FB9A99"/>
<rect x="16" y="197.24" width="11.2" height="12.06" fill="#B2DF8A"/>
<rect x="26.2" y="197.24" width="2.6" height="12.06" fill="#B2DF8A"/>
<rect x="27.8" y="197.24" width="3.5" height="12.06" fill="#B2DF8A"/>
<rect x="30.3" y="197.24" width="2.4" height="12.06" fill="#1F78B4"/>
<rect x="31.7" y="197.24" width="3.0" height="12.06" fill="#1F78B4"/>
<rect x="33.7" y="197.24" width="2.6" height="12.06" fill="#A6CEE3"/>
<rect x="35.3" y="197.24" width="2.3" height="12.06" fill="#A6CEE3"/>
<rect x="36.6" y="197.24" width="3.0" height="12.06" fill="#1F78B4"/>
<rect x="38.6" y="197.24" width="2.0" height="12.06" fill="#1F78B4"/>
<rect x="39.6" y="197.24" width="2.0" height="12.06" fill="#1F78B4"/>
<rect x="40.6" y="197.24" width="21.1" height="12.06" fill="#A6CEE3"/>
<rect x="60.7" y="197.24" width="4.3" height="12.06" fill="#E31A1C"/>
<rect x="64" y="197.24" width="2.1" height="12.06" fill="#E31A1C"/>
<rect x="65.1" y="197.24" width="2.6" height="12.06" fill="#E31A1C"/>
<rect x="66.7" y="197.24" width="4.3" height="12.06" fill="#E31A1C"/>
<rect x="70" y="197.24" width="2.5" height="12.06" fill="#E31A1C"/>
<rect x="71.5" y="197.24" width="1.7" height="12.06" fill="#E31A1C"/>
<rect x="72.2" y="197.24" width="2.5" height="12.06" fill="#E31A1C"/>
<rect x="73.7" y="197.24" width="2.2" height="12.06" fill="#E31A1C"/>
<rect x="74.9" y="197.24" width="3.5" height="12.06" fill="#1F78B4"/>
<rect x="77.4" y="197.24" width="2.2" height="12.06" fill="#1F78B4"/>
<rect x="78.6" y="197.24" width="1.9" height="12.06" fill="#1F78B4"/>
<rect x="79.5" y="197.24" width="2.9" height="12.06" fill="#1F78B4"/>
<rect x="81.4" y="197.24" width="4.4" height="12.06" fill="#1F78B4"/>
<rect x="84.8" y="197.24" width="4.8" height="12.06" fill="#1F78B4"/>
<rect x="88.6" y="197.24" width="6.3" height="12.06" fill="#33A02C"/>
<rect x="93.9" y="197.24" width="2.9" height="12.06" fill="#33A02C"/>
<rect x="95.8" y="197.24" width="5.0" height="12.06" fill="#FB9A99"/>
<rect x="99.8" y="197.24" width="3.5" height="12.06" fill="#33A02C"/>
<rect x="102.3" y="197.24" width="5.4" height="12.06" fill="#FB9A99"/>
<rect x="16" y="208.3" width="11.2" height="12.06" fill="#B2DF8A"/>
<rect x="26.2" y="208.3" width="2.6" height="12.06" fill="#FDBF6F"/>
<rect x="27.8" y="208.3" width="3.5" height="12.06" fill="#B2DF8A"/>
<rect x="30.3" y="208.3" width="2.4" height="12.06" fill="#B2DF8A"/>
<rect x="31.7" y="208.3" width="3.0" height="12.06" fill="#B2DF8A"/>
<rect x="33.7" y="208.3" width="2.6" height="12.06" fill="#A6CEE3"/>
<rect x="35.3" y="208.3" width="2.3" height="12.06" fill="#A6CEE3"/>
<rect x="36.6" y="208.3" width="3.0" height="12.06" fill="#1F78B4"/>
<rect x="38.6" y="208.3" width="2.0" height="12.06" fill="#1F78B4"/>
<rect x="39.6" y="208.3" width="2.0" height="12.06" fill="#1F78B4"/>
<rect x="40.6" y="208.3" width="21.1" height="12.06" fill="#A6CEE3"/>
<rect x="60.7" y="208.3" width="4.3" height="12.06" fill="#E31A1C"/>
<rect x="64" y="208.3" width="2.1" height="12.06" fill="#E31A1C"/>
<rect x="65.1" y="208.3" width="2.6" height="12.06" fill="#E31A1C"/>
<rect x="66.7" y="208.3" width="4.3" height="12.06" fill="#E31A1C"/>
<rect x="70" y="208.3" width="2.5" height="12.06" fill="#E31A1C"/>
<rect x="71.5" y="208.3" width="1.7" height="12.06" fill="#E31A1C"/>
<rect x="72.2" y="208.3" width="2.5" height="12.06" fill="#E31A1C"/>
<rect x="73.7" y="208.3" width="2.2" height="12.06" fill="#E31A1C"/>
<rect x="74.9" y="208.3" width="3.5" height="12.06" fill="#1F78B4"/>
<rect x="77.4" y="208.3" width="2.2" height="12.06" fill="#1F78B4"/>
<rect x="78.6" y="208.3" width="1.9" height="12.06" fill="#1F78B4"/>
<rect x="79.5" y="208.3" width="2.9" height="12.06" fill="#1F78B4"/>
<rect x="81.4" y="208.3" width="4.4" height="12.06" fill="#1F78B4"/>
<rect x="84.8" y="208.3" width="4.8" height="12.06" fill="#1F78B4"/>
<rect x="88.6" y="208.3" width="6.3" height="12.06" fill="#33A02C"/>
<rect x="93.9" y="208.3" width="2.9" height="12.06" fill="#FB9A99"/>
<rect x="95.8" y="208.3" width="5.0" height="12.06" fill="#FB9A99"/>
<rect x="99.8" y="208.3" width="3.5" height="12.06" fill="#FB9A99"/>
<rect x="102.3" y="208.3" width="5.4" height="12.06" fill="#FB9A99"/>
<rect x="16" y="219.36" width="11.2" height="12.06" fill="#B2DF8A"/>
<rect x="26.2" y="219.36" width="2.6" height="12.06" fill="#FDBF6F"/>
<rect x="27.8" y="219.36" width="3.5" height="12.06" fill="#FDBF6F"/>
<rect x="30.3" y="219.36" width="2.4" height="12.06" fill="#FDBF6F"/>
<rect x="31.7" y="219.36" width="3.0" height="12.06" fill="#FDBF6F"/>
<rect x="33.7" y="219.36" width="2.6" height="12.06" fill="#FDBF6F"/>
<rect x="35.3" y="219.36" width="2.3" height="12.06" fill="#FF7F00"/>
<rect x="36.6" y="219.36" width="3.0" height="12.06" fill="#FF7F00"/>
<rect x="38.6" y="219.36" width="2.0" height="12.06" fill="#FF7F00"/>
<rect x="39.6" y="219.36" width="2.0" height="12.06" fill="#FF7F00"/>
<rect x="40.6" y="219.36" width="21.1" height="12.06" fill="#A6CEE3"/>
<rect x="60.7" y="219.36" width="4.3" height="12.06" fill="#E31A1C"/>
<rect x="64" y="219.36" width="2.1" height="12.06" fill="#E31A1C"/>
<rect x="65.1" y="219.36" width="2.6" height="12.06" fill="#E31A1C"/>
<rect x="66.7" y="219.36" width="4.3" height="12.06" fill="#E31A1C"/>
<rect x="70" y="219.36" width="2.5" height="12.06" fill="#E31A1C"/>
<rect x="71.5" y="219.36" width="1.7" height="12.06" fill="#E31A1C"/>
<rect x="72.2" y="219.36" width="2.5" height="12.06" fill="#E31A1C"/>
<rect x="73.7" y="219.36" width="2.2" height="12.06" fill="#E31A1C"/>
<rect x="74.9" y="219.36" width="3.5" height="12.06" fill="#1F78B4"/>
<rect x="77.4" y="219.36" width="2.2" height="12.06" fill="#1F78B4"/>
<rect x="78.6" y="219.36" width="1.9" height="12.06" fill="#1F78B4"/>
<rect x="79.5" y="219.36" width="2.9" height="12.06" fill="#1F78B4"/>
<rect x="81.4" y="219.36" width="4.4" height="12.06" fill="#1F78B4"/>
<rect x="84.8" y="219.36" width="4.8" height="12.06" fill="#1F78B4"/>
<rect x="88.6" y="219.36" width="6.3" height="12.06" fill="#33A02C"/>
<rect x="93.9" y="219.36" width="2.9" height="12.06" fill="#FB9A99"/>
<rect x="95.8" y="219.36" width="5.0" height="12.06" fill="#FB9A99"/>
<rect x="99.8" y="219.36" width="3.5" height="12.06" fill="#FB9A99"/>
<rect x="102.3" y="219.36" width="5.4" height="12.06" fill="#FB9A99"/>
<rect x="16" y="230.42" width="11.2" height="11.06" fill="#B2DF8A"/>
<rect x="26.2" y="230.42" width="2.6" height="11.06" fill="#FDBF6F"/>
<rect x="27.8" y="230.42" width="3.5" height="11.06" fill="#FDBF6F"/>
<rect x="30.3" y="230.42" width="2.4" height="11.06" fill="#FDBF6F"/>
<rect x="31.7" y="230.42" width="3.0" height="11.06" fill="#FDBF6F"/>
<rect x="33.7" y="230.42" width="2.6" height="11.06" fill="#FDBF6F"/>
<rect x="35.3" y="230.42" width="2.3" height="11.06" fill="#FF7F00"/>
<rect x="36.6" y="230.42" width="3.0" height="11.06" fill="#FF7F00"/>
<rect x="38.6" y="230.42" width="2.0" height="11.06" fill="#FF7F00"/>
<rect x="39.6" y="230.42" width="2.0" height="11.06" fill="#FF7F00"/>
<rect x="40.6" y="230.42" width="21.1" height="11.06" fill="#A6CEE3"/>
<rect x="60.7" y="230.42" width="4.3" height="11.06" fill="#E31A1C"/>
<rect x="64" y="230.42" width="2.1" height="11.06" fill="#E31A1C"/>
<rect x="65.1" y="230.42" width="2.6" height="11.06" fill="#E31A1C"/>
<rect x="66.7" y="230.42" width="4.3" height="11.06" fill="#E31A1C"/>
<rect x="70" y="230.42" width="2.5" height="11.06" fill="#E31A1C"/>
<rect x="71.5" y="230.42" width="1.7" height="11.06" fill="#E31A1C"/>
<rect x="72.2" y="230.42" width="2.5" height="11.06" fill="#E31A1C"/>
<rect x="73.7" y="230.42" width="2.2" height="11.06" fill="#E31A1C"/>
<rect x="74.9" y="230.42" width="3.5" height="11.06" fill="#1F78B4"/>
<rect x="77.4" y="230.42" width="2.2" height="11.06" fill="#1F78B4"/>
<rect x="78.6" y="230.42" width="1.9" height="11.06" fill="#1F78B4"/>
<rect x="79.5" y="230.42" width="2.9" height="11.06" fill="#1F78B4"/>
<rect x="81.4" y="230.42" width="4.4" height="11.06" fill="#1F78B4"/>
<rect x="84.8" y="230.42" width="4.8" height="11.06" fill="#1F78B4"/>
<rect x="88.6" y="230.42" width="6.3" height="11.06" fill="#33A02C"/>
<rect x="93.9" y="230.42" width="2.9" height="11.06" fill="#FB9A99"/>
<rect x="95.8" y="230.42" width="5.0" height="11.06" fill="#FB9A99"/>
<rect x="99.8" y="230.42" width="3.5" height="11.06" fill="#FB9A99"/>
<rect x="102.3" y="230.42" width="5.4" height="11.06" fill="#FB9A99"/>
<rect x="16" y="242.3" width="91.7" height="3.8" fill="#000"/>
<text transform="translate(62 252.3) scale(0.1)" font-size="38.00" text-anchor="middle" fill="#111" stroke="#111" stroke-width="1.20">samples</text>
<text transform="translate(7.0 160.53) scale(0.1)" font-size="38.00" text-anchor="middle" fill="#111" stroke="#111" stroke-width="1.20">2</text>
<text transform="translate(7.0 171.59) scale(0.1)" font-size="38.00" text-anchor="middle" fill="#111" stroke="#111" stroke-width="1.20">3</text>
<text transform="translate(7.0 182.65) scale(0.1)" font-size="38.00" text-anchor="middle" fill="#111" stroke="#111" stroke-width="1.20">4</text>
<text transform="translate(7.0 193.71) scale(0.1)" font-size="38.00" text-anchor="middle" fill="#111" stroke="#111" stroke-width="1.20">5</text>
<text transform="translate(7.0 204.77) scale(0.1)" font-size="38.00" text-anchor="middle" fill="#111" stroke="#111" stroke-width="1.20">6</text>
<text transform="translate(7.0 215.83) scale(0.1)" font-size="38.00" text-anchor="middle" fill="#111" stroke="#111" stroke-width="1.20">7</text>
<text transform="translate(7.0 226.89) scale(0.1)" font-size="38.00" text-anchor="middle" fill="#111" stroke="#111" stroke-width="1.20">8</text>
<text transform="translate(7.0 237.95) scale(0.1)" font-size="38.00" text-anchor="middle" fill="#111" stroke="#111" stroke-width="1.20">9</text>
<text transform="translate(3.9 193.8) rotate(-90) scale(0.1)" font-size="36.00" font-weight="bold" text-anchor="middle" fill="#111" stroke="#111" stroke-width="1.20">k</text>
<text transform="translate(130 142.6) scale(0.1)" font-size="65.00" font-weight="bold" text-anchor="start" fill="#000" stroke="#000" stroke-width="1.20">E</text>
<rect x="141.3" y="153.0" width="99.2" height="89.3" fill="#fff" stroke="#c8c8c8" stroke-width="0.6"/>
<line x1="140.0" y1="164.5" x2="141.3" y2="164.5" stroke="#555" stroke-width="0.45"/>
<text transform="translate(139.7 165.55) scale(0.1)" font-size="30.00" text-anchor="end" fill="#555" stroke="#555" stroke-width="1.20">10</text>
<line x1="140.0" y1="185.4" x2="141.3" y2="185.4" stroke="#555" stroke-width="0.45"/>
<text transform="translate(139.7 186.45000000000002) scale(0.1)" font-size="30.00" text-anchor="end" fill="#555" stroke="#555" stroke-width="1.20">5</text>
<line x1="140.0" y1="206.3" x2="141.3" y2="206.3" stroke="#555" stroke-width="0.45"/>
<text transform="translate(139.7 207.35000000000002) scale(0.1)" font-size="30.00" text-anchor="end" fill="#555" stroke="#555" stroke-width="1.20">0</text>
<line x1="140.0" y1="227.20000000000002" x2="141.3" y2="227.20000000000002" stroke="#555" stroke-width="0.45"/>
<text transform="translate(139.7 228.25000000000003) scale(0.1)" font-size="30.00" text-anchor="end" fill="#555" stroke="#555" stroke-width="1.20">-5</text>
<line x1="154.3" y1="242.3" x2="154.3" y2="243.6" stroke="#555" stroke-width="0.45"/>
<text transform="translate(154.3 246.6) scale(0.1)" font-size="30.00" text-anchor="middle" fill="#555" stroke="#555" stroke-width="1.20">-10</text>
<line x1="176.55" y1="242.3" x2="176.55" y2="243.6" stroke="#555" stroke-width="0.45"/>
<text transform="translate(176.55 246.6) scale(0.1)" font-size="30.00" text-anchor="middle" fill="#555" stroke="#555" stroke-width="1.20">-5</text>
<line x1="198.8" y1="242.3" x2="198.8" y2="243.6" stroke="#555" stroke-width="0.45"/>
<text transform="translate(198.8 246.6) scale(0.1)" font-size="30.00" text-anchor="middle" fill="#555" stroke="#555" stroke-width="1.20">0</text>
<line x1="221.05" y1="242.3" x2="221.05" y2="243.6" stroke="#555" stroke-width="0.45"/>
<text transform="translate(221.05 246.6) scale(0.1)" font-size="30.00" text-anchor="middle" fill="#555" stroke="#555" stroke-width="1.20">5</text>
<text transform="translate(190.3 249.6) scale(0.1)" font-size="34.00" text-anchor="middle" fill="#111" stroke="#111" stroke-width="1.20">PCA1</text>
<text transform="translate(135.3 198.6) rotate(-90) scale(0.1)" font-size="34.00" text-anchor="middle" fill="#111" stroke="#111" stroke-width="1.20">PCA2</text>
<text transform="translate(245.1 192.9) scale(0.1)" font-size="33.00" text-anchor="start" fill="#111" stroke="#111" stroke-width="1.20">group</text>
<circle cx="247.6" cy="198.1" r="0.85" fill="#F8766D"/>
<circle cx="247.6" cy="203.0" r="0.85" fill="#00BFC4"/>
<text transform="translate(252.2 199.1) scale(0.1)" font-size="25.50" text-anchor="start" fill="#222" stroke="#222" stroke-width="1.20">cluster1</text>
<text transform="translate(252.2 204.0) scale(0.1)" font-size="25.50" text-anchor="start" fill="#222" stroke="#222" stroke-width="1.20">cluster2</text>
<circle cx="181.4" cy="203.9" r="0.8" fill="#13B5B9"/>
<circle cx="195.3" cy="211.3" r="0.8" fill="#13B5B9"/>
<circle cx="196.6" cy="231.9" r="0.8" fill="#13B5B9"/>
<circle cx="198.2" cy="214.2" r="0.8" fill="#F06C64"/>
<circle cx="229.0" cy="220.8" r="0.8" fill="#F06C64"/>
<circle cx="230.4" cy="226.0" r="0.8" fill="#F06C64"/>
<circle cx="177.1" cy="207.8" r="0.8" fill="#13B5B9"/>
<circle cx="185.1" cy="211.5" r="0.8" fill="#13B5B9"/>
<circle cx="209.1" cy="192.4" r="0.8" fill="#F06C64"/>
<circle cx="213.8" cy="213.6" r="0.8" fill="#F06C64"/>
<circle cx="174.2" cy="221.4" r="0.8" fill="#13B5B9"/>
<circle cx="223.2" cy="225.6" r="0.8" fill="#F06C64"/>
<circle cx="169.8" cy="192.1" r="0.8" fill="#13B5B9"/>
<circle cx="210.3" cy="213.3" r="0.8" fill="#F06C64"/>
<circle cx="188.6" cy="204.7" r="0.8" fill="#13B5B9"/>
<circle cx="209.9" cy="191.9" r="0.8" fill="#F06C64"/>
<circle cx="172.0" cy="190.2" r="0.8" fill="#13B5B9"/>
<circle cx="210.9" cy="195.4" r="0.8" fill="#F06C64"/>
<circle cx="211.2" cy="237.0" r="0.8" fill="#F06C64"/>
<circle cx="188.5" cy="189.1" r="0.8" fill="#13B5B9"/>
<circle cx="187.5" cy="197.5" r="0.8" fill="#13B5B9"/>
<circle cx="200.7" cy="218.0" r="0.8" fill="#F06C64"/>
<circle cx="189.7" cy="187.0" r="0.8" fill="#13B5B9"/>
<circle cx="178.2" cy="200.8" r="0.8" fill="#13B5B9"/>
<circle cx="207.1" cy="215.6" r="0.8" fill="#F06C64"/>
<circle cx="172.5" cy="203.7" r="0.8" fill="#13B5B9"/>
<circle cx="212.1" cy="198.6" r="0.8" fill="#F06C64"/>
<circle cx="169.4" cy="202.9" r="0.8" fill="#13B5B9"/>
<circle cx="217.6" cy="193.0" r="0.8" fill="#F06C64"/>
<circle cx="198.6" cy="207.4" r="0.8" fill="#F06C64"/>
<circle cx="188.5" cy="227.5" r="0.8" fill="#13B5B9"/>
<circle cx="198.4" cy="210.9" r="0.8" fill="#13B5B9"/>
<circle cx="209.4" cy="219.6" r="0.8" fill="#F06C64"/>
<circle cx="181.8" cy="197.7" r="0.8" fill="#13B5B9"/>
<circle cx="217.3" cy="215.3" r="0.8" fill="#F06C64"/>
<circle cx="226.3" cy="201.3" r="0.8" fill="#F06C64"/>
<circle cx="208.9" cy="189.8" r="0.8" fill="#F06C64"/>
<circle cx="195.2" cy="198.6" r="0.8" fill="#13B5B9"/>
<circle cx="211.9" cy="217.5" r="0.8" fill="#F06C64"/>
<circle cx="201.4" cy="186.5" r="0.8" fill="#F06C64"/>
<circle cx="189.3" cy="195.9" r="0.8" fill="#13B5B9"/>
<circle cx="187.2" cy="193.2" r="0.8" fill="#13B5B9"/>
<circle cx="214.5" cy="191.8" r="0.8" fill="#F06C64"/>
<circle cx="173.5" cy="207.5" r="0.8" fill="#13B5B9"/>
<circle cx="194.4" cy="200.5" r="0.8" fill="#13B5B9"/>
<circle cx="191.3" cy="214.7" r="0.8" fill="#13B5B9"/>
<circle cx="194.9" cy="198.5" r="0.8" fill="#13B5B9"/>
<circle cx="169.4" cy="208.3" r="0.8" fill="#13B5B9"/>
<circle cx="194.0" cy="192.3" r="0.8" fill="#13B5B9"/>
<circle cx="197.6" cy="198.9" r="0.8" fill="#F06C64"/>
<circle cx="208.5" cy="207.9" r="0.8" fill="#F06C64"/>
<circle cx="172.1" cy="199.2" r="0.8" fill="#13B5B9"/>
<circle cx="181.7" cy="188.9" r="0.8" fill="#13B5B9"/>
<circle cx="208.2" cy="214.2" r="0.8" fill="#F06C64"/>
<circle cx="206.2" cy="210.0" r="0.8" fill="#F06C64"/>
<circle cx="184.9" cy="204.7" r="0.8" fill="#13B5B9"/>
<circle cx="180.5" cy="167.0" r="0.8" fill="#13B5B9"/>
<circle cx="173.7" cy="224.5" r="0.8" fill="#13B5B9"/>
<circle cx="183.1" cy="204.8" r="0.8" fill="#13B5B9"/>
<circle cx="219.8" cy="218.5" r="0.8" fill="#F06C64"/>
<circle cx="204.1" cy="190.9" r="0.8" fill="#F06C64"/>
<circle cx="206.6" cy="193.7" r="0.8" fill="#F06C64"/>
<circle cx="217.3" cy="224.8" r="0.8" fill="#F06C64"/>
<circle cx="193.8" cy="204.0" r="0.8" fill="#13B5B9"/>
<circle cx="215.6" cy="206.8" r="0.8" fill="#F06C64"/>
<circle cx="218.3" cy="214.2" r="0.8" fill="#F06C64"/>
<circle cx="205.7" cy="220.7" r="0.8" fill="#F06C64"/>
<circle cx="217.2" cy="197.0" r="0.8" fill="#F06C64"/>
<circle cx="192.3" cy="213.1" r="0.8" fill="#13B5B9"/>
<circle cx="202.3" cy="227.1" r="0.8" fill="#F06C64"/>
<circle cx="182.1" cy="165.4" r="0.8" fill="#13B5B9"/>
<circle cx="218.5" cy="188.2" r="0.8" fill="#F06C64"/>
<circle cx="212.5" cy="216.6" r="0.8" fill="#F06C64"/>
<circle cx="187.1" cy="179.0" r="0.8" fill="#13B5B9"/>
<circle cx="165.2" cy="216.6" r="0.8" fill="#13B5B9"/>
<circle cx="181.4" cy="219.8" r="0.8" fill="#13B5B9"/>
<circle cx="182.9" cy="222.4" r="0.8" fill="#13B5B9"/>
<circle cx="214.9" cy="224.3" r="0.8" fill="#F06C64"/>
<circle cx="224.1" cy="209.7" r="0.8" fill="#F06C64"/>
<circle cx="209.4" cy="222.6" r="0.8" fill="#F06C64"/>
<circle cx="173.0" cy="182.4" r="0.8" fill="#13B5B9"/>
<circle cx="222.0" cy="203.2" r="0.8" fill="#F06C64"/>
<circle cx="176.9" cy="215.2" r="0.8" fill="#13B5B9"/>
<circle cx="187.4" cy="211.0" r="0.8" fill="#13B5B9"/>
<circle cx="209.4" cy="209.3" r="0.8" fill="#F06C64"/>
<circle cx="189.5" cy="215.3" r="0.8" fill="#13B5B9"/>
<circle cx="173.9" cy="207.0" r="0.8" fill="#13B5B9"/>
<circle cx="200.7" cy="237.3" r="0.8" fill="#F06C64"/>
<circle cx="221.9" cy="204.6" r="0.8" fill="#F06C64"/>
<circle cx="178.7" cy="185.9" r="0.8" fill="#13B5B9"/>
<circle cx="208.2" cy="217.4" r="0.8" fill="#F06C64"/>
<circle cx="178.5" cy="222.4" r="0.8" fill="#13B5B9"/>
<circle cx="218.5" cy="213.0" r="0.8" fill="#F06C64"/>
<circle cx="216.9" cy="209.4" r="0.8" fill="#F06C64"/>
<circle cx="185.6" cy="214.4" r="0.8" fill="#13B5B9"/>
<circle cx="217.3" cy="223.4" r="0.8" fill="#F06C64"/>
<circle cx="204.6" cy="190.5" r="0.8" fill="#F06C64"/>
<circle cx="208.9" cy="218.5" r="0.8" fill="#F06C64"/>
<circle cx="188.1" cy="234.7" r="0.8" fill="#13B5B9"/>
<circle cx="184.7" cy="204.7" r="0.8" fill="#13B5B9"/>
<circle cx="181.7" cy="205.5" r="0.8" fill="#13B5B9"/>
<circle cx="202.3" cy="198.5" r="0.8" fill="#F06C64"/>
<circle cx="182.3" cy="195.7" r="0.8" fill="#13B5B9"/>
<circle cx="177.3" cy="193.3" r="0.8" fill="#13B5B9"/>
<circle cx="199.2" cy="201.5" r="0.8" fill="#F06C64"/>
<circle cx="212.0" cy="191.3" r="0.8" fill="#F06C64"/>
<circle cx="177.0" cy="204.2" r="0.8" fill="#13B5B9"/>
<circle cx="176.3" cy="219.2" r="0.8" fill="#13B5B9"/>
<circle cx="184.1" cy="212.5" r="0.8" fill="#13B5B9"/>
<circle cx="188.7" cy="202.2" r="0.8" fill="#13B5B9"/>
<circle cx="169.5" cy="198.7" r="0.8" fill="#13B5B9"/>
<circle cx="192.7" cy="194.5" r="0.8" fill="#13B5B9"/>
<circle cx="197.6" cy="211.3" r="0.8" fill="#F06C64"/>
<circle cx="180.4" cy="212.7" r="0.8" fill="#13B5B9"/>
<circle cx="200.0" cy="228.3" r="0.8" fill="#F06C64"/>
<circle cx="179.8" cy="207.1" r="0.8" fill="#13B5B9"/>
<circle cx="219.3" cy="237.6" r="0.8" fill="#F06C64"/>
<circle cx="183.4" cy="216.7" r="0.8" fill="#13B5B9"/>
<circle cx="217.1" cy="202.6" r="0.8" fill="#F06C64"/>
<circle cx="216.7" cy="220.0" r="0.8" fill="#F06C64"/>
<circle cx="191.0" cy="209.0" r="0.8" fill="#13B5B9"/>
<circle cx="155.2" cy="181.3" r="0.8" fill="#13B5B9"/>
<circle cx="187.5" cy="215.8" r="0.8" fill="#13B5B9"/>
<circle cx="173.3" cy="187.7" r="0.8" fill="#13B5B9"/>
<circle cx="207.2" cy="179.8" r="0.8" fill="#F06C64"/>
<circle cx="172.3" cy="228.8" r="0.8" fill="#13B5B9"/>
<circle cx="160.7" cy="233.5" r="0.8" fill="#13B5B9"/>
<circle cx="233.4" cy="199.5" r="0.8" fill="#F06C64"/>
<circle cx="192.7" cy="226.9" r="0.8" fill="#13B5B9"/>
<circle cx="209.3" cy="232.8" r="0.8" fill="#F06C64"/>
<circle cx="209.7" cy="184.9" r="0.8" fill="#F06C64"/>
<circle cx="177.2" cy="224.7" r="0.8" fill="#13B5B9"/>
<circle cx="194.4" cy="231.4" r="0.8" fill="#13B5B9"/>
<circle cx="208.3" cy="200.7" r="0.8" fill="#F06C64"/>
<circle cx="200.1" cy="221.2" r="0.8" fill="#F06C64"/>
<circle cx="209.8" cy="213.3" r="0.8" fill="#F06C64"/>
<circle cx="178.2" cy="215.9" r="0.8" fill="#13B5B9"/>
<circle cx="185.6" cy="206.9" r="0.8" fill="#13B5B9"/>
<circle cx="217.1" cy="202.7" r="0.8" fill="#F06C64"/>
<circle cx="204.3" cy="230.1" r="0.8" fill="#F06C64"/>
<circle cx="217.2" cy="217.4" r="0.8" fill="#F06C64"/>
<circle cx="189.1" cy="198.3" r="0.8" fill="#13B5B9"/>
<circle cx="180.3" cy="197.1" r="0.8" fill="#13B5B9"/>
<circle cx="219.3" cy="191.3" r="0.8" fill="#F06C64"/>
<circle cx="224.5" cy="165.4" r="0.8" fill="#F06C64"/>
<circle cx="179.4" cy="211.7" r="0.8" fill="#13B5B9"/>
<circle cx="217.7" cy="168.1" r="0.8" fill="#F06C64"/>
<circle cx="205.7" cy="183.7" r="0.8" fill="#F06C64"/>
<circle cx="220.4" cy="216.0" r="0.8" fill="#F06C64"/>
<circle cx="178.2" cy="167.0" r="0.8" fill="#13B5B9"/>
<circle cx="199.6" cy="204.2" r="0.8" fill="#F06C64"/>
<circle cx="171.9" cy="236.9" r="0.8" fill="#13B5B9"/>
<circle cx="185.1" cy="189.6" r="0.8" fill="#13B5B9"/>
<circle cx="222.3" cy="204.3" r="0.8" fill="#F06C64"/>
<circle cx="205.7" cy="225.7" r="0.8" fill="#F06C64"/>
<circle cx="193.7" cy="206.4" r="0.8" fill="#13B5B9"/>
<circle cx="186.1" cy="191.7" r="0.8" fill="#13B5B9"/>
<circle cx="182.0" cy="167.5" r="0.8" fill="#13B5B9"/>
<circle cx="186.9" cy="213.3" r="0.8" fill="#13B5B9"/>
<circle cx="207.1" cy="179.3" r="0.8" fill="#F06C64"/>
<circle cx="199.3" cy="212.6" r="0.8" fill="#F06C64"/>
<circle cx="221.8" cy="210.8" r="0.8" fill="#F06C64"/>
<circle cx="184.8" cy="211.7" r="0.8" fill="#13B5B9"/>
<circle cx="211.1" cy="188.7" r="0.8" fill="#F06C64"/>
<circle cx="180.0" cy="184.0" r="0.8" fill="#13B5B9"/>
<circle cx="206.8" cy="217.3" r="0.8" fill="#F06C64"/>
<circle cx="218.5" cy="205.5" r="0.8" fill="#F06C64"/>
<circle cx="205.6" cy="188.2" r="0.8" fill="#F06C64"/>
<circle cx="202.1" cy="172.4" r="0.8" fill="#F06C64"/>
<circle cx="198.1" cy="194.2" r="0.8" fill="#F06C64"/>
<circle cx="224.5" cy="228.6" r="0.8" fill="#F06C64"/>
<circle cx="198.7" cy="191.2" r="0.8" fill="#F06C64"/>
<circle cx="194.2" cy="233.6" r="0.8" fill="#13B5B9"/>
<circle cx="179.4" cy="215.5" r="0.8" fill="#13B5B9"/>
<circle cx="218.8" cy="221.5" r="0.8" fill="#F06C64"/>
<circle cx="200.4" cy="217.4" r="0.8" fill="#F06C64"/>
<circle cx="170.0" cy="233.0" r="0.8" fill="#13B5B9"/>
<circle cx="186.6" cy="180.5" r="0.8" fill="#13B5B9"/>
<circle cx="180.8" cy="204.9" r="0.8" fill="#13B5B9"/>
<circle cx="210.9" cy="229.3" r="0.8" fill="#F06C64"/>
<circle cx="205.7" cy="221.9" r="0.8" fill="#F06C64"/>
<circle cx="206.2" cy="210.8" r="0.8" fill="#F06C64"/>
<circle cx="173.3" cy="216.5" r="0.8" fill="#13B5B9"/>
<circle cx="213.2" cy="197.6" r="0.8" fill="#F06C64"/>
<circle cx="212.7" cy="222.9" r="0.8" fill="#F06C64"/>
<circle cx="219.2" cy="207.7" r="0.8" fill="#F06C64"/>
<circle cx="189.7" cy="224.9" r="0.8" fill="#13B5B9"/>
<circle cx="211.0" cy="204.4" r="0.8" fill="#F06C64"/>
<circle cx="186.8" cy="228.6" r="0.8" fill="#13B5B9"/>
<circle cx="223.5" cy="213.4" r="0.8" fill="#F06C64"/>
<circle cx="183.4" cy="211.3" r="0.8" fill="#13B5B9"/>
<circle cx="193.8" cy="216.4" r="0.8" fill="#13B5B9"/>
<circle cx="223.6" cy="219.1" r="0.8" fill="#F06C64"/>
<circle cx="183.9" cy="207.9" r="0.8" fill="#13B5B9"/>
<circle cx="202.7" cy="227.5" r="0.8" fill="#F06C64"/>
<circle cx="216.7" cy="212.8" r="0.8" fill="#F06C64"/>
<circle cx="193.6" cy="207.3" r="0.8" fill="#13B5B9"/>
<circle cx="196.6" cy="190.6" r="0.8" fill="#F06C64"/>
<circle cx="172.3" cy="220.3" r="0.8" fill="#13B5B9"/>
<circle cx="179.4" cy="215.6" r="0.8" fill="#13B5B9"/>
<circle cx="216.6" cy="201.5" r="0.8" fill="#F06C64"/>
<circle cx="216.2" cy="220.1" r="0.8" fill="#F06C64"/>
<circle cx="184.2" cy="231.7" r="0.8" fill="#13B5B9"/>
<circle cx="223.3" cy="190.8" r="0.8" fill="#F06C64"/>
<circle cx="219.5" cy="212.2" r="0.8" fill="#F06C64"/>
<circle cx="211.6" cy="203.3" r="0.8" fill="#F06C64"/>
<circle cx="173.0" cy="212.9" r="0.8" fill="#13B5B9"/>
<circle cx="211.2" cy="195.9" r="0.8" fill="#F06C64"/>
<circle cx="197.1" cy="210.2" r="0.8" fill="#13B5B9"/>
<circle cx="218.2" cy="193.4" r="0.8" fill="#F06C64"/>
<circle cx="194.9" cy="214.9" r="0.8" fill="#13B5B9"/>
<circle cx="208.9" cy="197.6" r="0.8" fill="#F06C64"/>
<circle cx="210.2" cy="187.1" r="0.8" fill="#F06C64"/>
<circle cx="193.4" cy="182.8" r="0.8" fill="#13B5B9"/>
<circle cx="202.6" cy="213.1" r="0.8" fill="#F06C64"/>
<circle cx="208.5" cy="191.0" r="0.8" fill="#F06C64"/>
<circle cx="168.0" cy="176.7" r="0.8" fill="#13B5B9"/>
<circle cx="172.4" cy="215.6" r="0.8" fill="#13B5B9"/>
<circle cx="235.1" cy="179.5" r="0.8" fill="#F06C64"/>
<circle cx="199.4" cy="217.6" r="0.8" fill="#13B5B9"/>
<circle cx="215.3" cy="196.7" r="0.8" fill="#F06C64"/>
<circle cx="206.8" cy="197.8" r="0.8" fill="#F06C64"/>
<circle cx="223.4" cy="189.0" r="0.8" fill="#F06C64"/>
<circle cx="231.3" cy="221.1" r="0.8" fill="#F06C64"/>
<circle cx="162.7" cy="217.7" r="0.8" fill="#13B5B9"/>
<circle cx="196.8" cy="201.9" r="0.8" fill="#13B5B9"/>
<circle cx="213.9" cy="211.0" r="0.8" fill="#F06C64"/>
<circle cx="178.2" cy="193.4" r="0.8" fill="#13B5B9"/>
<circle cx="185.0" cy="179.9" r="0.8" fill="#13B5B9"/>
<circle cx="186.1" cy="202.5" r="0.8" fill="#13B5B9"/>
<circle cx="177.8" cy="210.2" r="0.8" fill="#13B5B9"/>
<circle cx="220.6" cy="187.4" r="0.8" fill="#F06C64"/>
<circle cx="211.1" cy="233.2" r="0.8" fill="#F06C64"/>
<circle cx="215.8" cy="229.3" r="0.8" fill="#F06C64"/>
<circle cx="224.2" cy="202.8" r="0.8" fill="#F06C64"/>
<circle cx="215.1" cy="204.3" r="0.8" fill="#F06C64"/>
<circle cx="201.3" cy="222.2" r="0.8" fill="#F06C64"/>
<circle cx="188.0" cy="211.0" r="0.8" fill="#13B5B9"/>
<circle cx="201.3" cy="190.9" r="0.8" fill="#F06C64"/>
<circle cx="182.9" cy="187.7" r="0.8" fill="#13B5B9"/>
<circle cx="217.7" cy="213.4" r="0.8" fill="#F06C64"/>
<circle cx="181.0" cy="213.3" r="0.8" fill="#13B5B9"/>
<circle cx="176.7" cy="224.7" r="0.8" fill="#13B5B9"/>
<circle cx="163.0" cy="166.3" r="0.8" fill="#13B5B9"/>
<circle cx="209.1" cy="216.5" r="0.8" fill="#F06C64"/>
<circle cx="178.8" cy="215.5" r="0.8" fill="#13B5B9"/>
<circle cx="172.9" cy="172.5" r="0.8" fill="#13B5B9"/>
<circle cx="209.1" cy="195.0" r="0.8" fill="#F06C64"/>
<circle cx="175.1" cy="205.3" r="0.8" fill="#13B5B9"/>
<circle cx="198.8" cy="216.1" r="0.8" fill="#F06C64"/>
<circle cx="209.1" cy="195.6" r="0.8" fill="#F06C64"/>
<circle cx="193.5" cy="195.2" r="0.8" fill="#13B5B9"/>
<circle cx="208.5" cy="205.5" r="0.8" fill="#F06C64"/>
<circle cx="198.1" cy="201.6" r="0.8" fill="#F06C64"/>
<circle cx="177.6" cy="226.7" r="0.8" fill="#13B5B9"/>
<circle cx="202.0" cy="220.1" r="0.8" fill="#F06C64"/>
<circle cx="202.2" cy="211.8" r="0.8" fill="#F06C64"/>
<circle cx="196.6" cy="206.8" r="0.8" fill="#13B5B9"/>
<circle cx="181.1" cy="199.4" r="0.8" fill="#13B5B9"/>
<circle cx="183.0" cy="214.0" r="0.8" fill="#13B5B9"/>
<circle cx="190.8" cy="183.6" r="0.8" fill="#13B5B9"/>
<circle cx="202.4" cy="196.7" r="0.8" fill="#F06C64"/>
<circle cx="177.5" cy="222.8" r="0.8" fill="#13B5B9"/>
<circle cx="197.1" cy="212.3" r="0.8" fill="#13B5B9"/>
<circle cx="206.5" cy="216.7" r="0.8" fill="#F06C64"/>
<circle cx="221.9" cy="165.4" r="0.8" fill="#F06C64"/>
<circle cx="187.3" cy="203.1" r="0.8" fill="#13B5B9"/>
<circle cx="194.7" cy="209.8" r="0.8" fill="#13B5B9"/>
<circle cx="215.2" cy="223.6" r="0.8" fill="#F06C64"/>
<circle cx="201.2" cy="205.7" r="0.8" fill="#F06C64"/>
<circle cx="164.2" cy="199.7" r="0.8" fill="#13B5B9"/>
<circle cx="208.8" cy="200.7" r="0.8" fill="#F06C64"/>
<circle cx="204.2" cy="237.2" r="0.8" fill="#F06C64"/>
<circle cx="164.6" cy="229.6" r="0.8" fill="#13B5B9"/>
<circle cx="200.3" cy="186.5" r="0.8" fill="#F06C64"/>
<circle cx="215.7" cy="207.2" r="0.8" fill="#F06C64"/>
<circle cx="219.0" cy="208.2" r="0.8" fill="#F06C64"/>
<circle cx="210.0" cy="188.9" r="0.8" fill="#F06C64"/>
<circle cx="225.7" cy="184.4" r="0.8" fill="#F06C64"/>
<circle cx="191.3" cy="229.5" r="0.8" fill="#13B5B9"/>
<circle cx="197.2" cy="237.7" r="0.8" fill="#F06C64"/>
<circle cx="209.5" cy="165.4" r="0.8" fill="#F06C64"/>
<circle cx="214.6" cy="229.4" r="0.8" fill="#F06C64"/>
<circle cx="216.0" cy="218.7" r="0.8" fill="#F06C64"/>
<circle cx="216.3" cy="177.5" r="0.8" fill="#F06C64"/>
<circle cx="208.0" cy="213.9" r="0.8" fill="#F06C64"/>
<circle cx="220.0" cy="203.6" r="0.8" fill="#F06C64"/>
<circle cx="212.3" cy="194.8" r="0.8" fill="#F06C64"/>
<circle cx="212.5" cy="227.3" r="0.8" fill="#F06C64"/>
<circle cx="202.5" cy="178.9" r="0.8" fill="#F06C64"/>
<circle cx="212.4" cy="185.7" r="0.8" fill="#F06C64"/>
<circle cx="226.6" cy="202.1" r="0.8" fill="#F06C64"/>
<circle cx="175.6" cy="211.8" r="0.8" fill="#13B5B9"/>
<circle cx="177.5" cy="206.6" r="0.8" fill="#13B5B9"/>
<circle cx="201.6" cy="218.4" r="0.8" fill="#F06C64"/>
<circle cx="190.9" cy="199.2" r="0.8" fill="#13B5B9"/>
<circle cx="191.2" cy="196.8" r="0.8" fill="#13B5B9"/>
<circle cx="216.2" cy="220.2" r="0.8" fill="#F06C64"/>
<circle cx="182.7" cy="196.6" r="0.8" fill="#13B5B9"/>
<circle cx="166.4" cy="225.0" r="0.8" fill="#13B5B9"/>
<circle cx="219.6" cy="206.7" r="0.8" fill="#F06C64"/>
<circle cx="204.4" cy="202.0" r="0.8" fill="#F06C64"/>
<circle cx="204.8" cy="193.7" r="0.8" fill="#F06C64"/>
<circle cx="215.8" cy="182.8" r="0.8" fill="#F06C64"/>
<circle cx="205.3" cy="209.1" r="0.8" fill="#F06C64"/>
<circle cx="190.4" cy="177.8" r="0.8" fill="#13B5B9"/>
<circle cx="205.0" cy="225.7" r="0.8" fill="#F06C64"/>
<circle cx="206.9" cy="211.5" r="0.8" fill="#F06C64"/>
<circle cx="209.4" cy="217.8" r="0.8" fill="#F06C64"/>
<circle cx="194.2" cy="212.2" r="0.8" fill="#13B5B9"/>
<circle cx="208.5" cy="212.3" r="0.8" fill="#F06C64"/>
<circle cx="195.6" cy="170.3" r="0.8" fill="#13B5B9"/>
<circle cx="174.3" cy="202.8" r="0.8" fill="#13B5B9"/>
<circle cx="182.8" cy="177.9" r="0.8" fill="#13B5B9"/>
<circle cx="172.4" cy="217.5" r="0.8" fill="#13B5B9"/>
<circle cx="195.2" cy="198.6" r="0.8" fill="#13B5B9"/>
<circle cx="183.4" cy="221.8" r="0.8" fill="#13B5B9"/>
<circle cx="215.0" cy="180.9" r="0.8" fill="#F06C64"/>
<circle cx="221.0" cy="201.5" r="0.8" fill="#F06C64"/>
<circle cx="173.4" cy="216.8" r="0.8" fill="#13B5B9"/>
<circle cx="176.3" cy="203.6" r="0.8" fill="#13B5B9"/>
<circle cx="196.2" cy="219.4" r="0.8" fill="#F06C64"/>
<circle cx="203.2" cy="207.7" r="0.8" fill="#F06C64"/>
<circle cx="191.7" cy="174.4" r="0.8" fill="#13B5B9"/>
<circle cx="212.7" cy="214.2" r="0.8" fill="#F06C64"/>
<circle cx="176.1" cy="213.6" r="0.8" fill="#13B5B9"/>
<circle cx="210.3" cy="214.7" r="0.8" fill="#F06C64"/>
<circle cx="205.0" cy="156.5" r="0.8" fill="#F06C64"/>
<circle cx="204.1" cy="191.1" r="0.8" fill="#F06C64"/>
<circle cx="198.9" cy="181.5" r="0.8" fill="#F06C64"/>
<circle cx="202.8" cy="173.1" r="0.8" fill="#F06C64"/>
<circle cx="181.4" cy="195.7" r="0.8" fill="#13B5B9"/>
<circle cx="216.6" cy="199.2" r="0.8" fill="#F06C64"/>
<circle cx="221.6" cy="183.4" r="0.8" fill="#F06C64"/>
<circle cx="179.8" cy="175.4" r="0.8" fill="#13B5B9"/>
<circle cx="171.1" cy="194.4" r="0.8" fill="#13B5B9"/>
<circle cx="181.5" cy="206.1" r="0.8" fill="#13B5B9"/>
<circle cx="179.0" cy="213.6" r="0.8" fill="#13B5B9"/>
<circle cx="195.1" cy="207.9" r="0.8" fill="#13B5B9"/>
<circle cx="215.3" cy="208.9" r="0.8" fill="#F06C64"/>
<circle cx="208.6" cy="158.5" r="0.8" fill="#F06C64"/>
<circle cx="213.9" cy="214.9" r="0.8" fill="#F06C64"/>
<circle cx="186.4" cy="195.8" r="0.8" fill="#13B5B9"/>
<circle cx="216.3" cy="217.4" r="0.8" fill="#F06C64"/>
<circle cx="205.3" cy="197.6" r="0.8" fill="#F06C64"/>
<circle cx="179.1" cy="230.1" r="0.8" fill="#13B5B9"/>
<circle cx="214.1" cy="232.5" r="0.8" fill="#F06C64"/>
<circle cx="172.6" cy="192.7" r="0.8" fill="#13B5B9"/>
<circle cx="213.7" cy="198.3" r="0.8" fill="#F06C64"/>
<circle cx="215.9" cy="219.0" r="0.8" fill="#F06C64"/>
<circle cx="212.3" cy="200.2" r="0.8" fill="#F06C64"/>
<circle cx="227.2" cy="176.9" r="0.8" fill="#F06C64"/>
<circle cx="172.5" cy="206.6" r="0.8" fill="#13B5B9"/>
<circle cx="191.9" cy="228.1" r="0.8" fill="#13B5B9"/>
<circle cx="184.0" cy="189.2" r="0.8" fill="#13B5B9"/>
<circle cx="187.0" cy="181.1" r="0.8" fill="#13B5B9"/>
<circle cx="230.6" cy="199.6" r="0.8" fill="#F06C64"/>
<circle cx="221.5" cy="221.3" r="0.8" fill="#F06C64"/>
<circle cx="198.1" cy="197.0" r="0.8" fill="#13B5B9"/>
<circle cx="192.9" cy="215.1" r="0.8" fill="#13B5B9"/>
<circle cx="219.8" cy="207.3" r="0.8" fill="#F06C64"/>
<circle cx="206.3" cy="194.2" r="0.8" fill="#F06C64"/>
<circle cx="178.7" cy="185.1" r="0.8" fill="#13B5B9"/>
<circle cx="196.4" cy="208.0" r="0.8" fill="#13B5B9"/>
<circle cx="208.5" cy="218.8" r="0.8" fill="#F06C64"/>
<circle cx="219.7" cy="230.1" r="0.8" fill="#F06C64"/>
<circle cx="178.1" cy="188.9" r="0.8" fill="#13B5B9"/>
<circle cx="186.0" cy="209.7" r="0.8" fill="#13B5B9"/>
<circle cx="218.6" cy="211.1" r="0.8" fill="#F06C64"/>
<circle cx="184.1" cy="220.2" r="0.8" fill="#13B5B9"/>
<circle cx="212.4" cy="210.3" r="0.8" fill="#F06C64"/>
<circle cx="214.8" cy="218.6" r="0.8" fill="#F06C64"/>
<circle cx="213.1" cy="217.0" r="0.8" fill="#F06C64"/>
<circle cx="189.1" cy="178.3" r="0.8" fill="#13B5B9"/>
<circle cx="186.1" cy="188.8" r="0.8" fill="#13B5B9"/>
<circle cx="202.9" cy="221.8" r="0.8" fill="#F06C64"/>
<circle cx="192.5" cy="202.7" r="0.8" fill="#13B5B9"/>
<circle cx="200.3" cy="224.3" r="0.8" fill="#F06C64"/>
<circle cx="217.9" cy="216.2" r="0.8" fill="#F06C64"/>
<circle cx="216.1" cy="191.9" r="0.8" fill="#F06C64"/>
<circle cx="175.4" cy="195.7" r="0.8" fill="#13B5B9"/>
<circle cx="207.3" cy="202.4" r="0.8" fill="#F06C64"/>
<circle cx="178.1" cy="203.3" r="0.8" fill="#13B5B9"/>
<circle cx="213.4" cy="192.6" r="0.8" fill="#F06C64"/>
<circle cx="214.7" cy="200.1" r="0.8" fill="#F06C64"/>
<circle cx="213.9" cy="167.2" r="0.8" fill="#F06C64"/>
<circle cx="200.6" cy="216.4" r="0.8" fill="#F06C64"/>
<circle cx="177.8" cy="207.4" r="0.8" fill="#13B5B9"/>
<circle cx="192.3" cy="219.7" r="0.8" fill="#13B5B9"/>
<circle cx="201.5" cy="190.5" r="0.8" fill="#F06C64"/>
<circle cx="184.8" cy="232.0" r="0.8" fill="#13B5B9"/>
<circle cx="180.4" cy="199.9" r="0.8" fill="#13B5B9"/>
<circle cx="188.0" cy="173.0" r="0.8" fill="#13B5B9"/>
<circle cx="210.8" cy="191.9" r="0.8" fill="#F06C64"/>
<circle cx="188.2" cy="222.0" r="0.8" fill="#13B5B9"/>
<circle cx="193.9" cy="206.5" r="0.8" fill="#13B5B9"/>
<circle cx="220.9" cy="203.5" r="0.8" fill="#F06C64"/>
<circle cx="219.3" cy="201.5" r="0.8" fill="#F06C64"/>
<circle cx="184.2" cy="180.0" r="0.8" fill="#13B5B9"/>
<circle cx="207.2" cy="198.5" r="0.8" fill="#F06C64"/>
<circle cx="188.5" cy="200.3" r="0.8" fill="#13B5B9"/>
<circle cx="209.0" cy="196.6" r="0.8" fill="#F06C64"/>
<circle cx="213.9" cy="217.6" r="0.8" fill="#F06C64"/>
<circle cx="214.5" cy="233.1" r="0.8" fill="#F06C64"/>
<circle cx="219.8" cy="219.3" r="0.8" fill="#F06C64"/>
<circle cx="181.6" cy="196.9" r="0.8" fill="#13B5B9"/>
<circle cx="181.3" cy="207.6" r="0.8" fill="#13B5B9"/>
<circle cx="224.4" cy="189.7" r="0.8" fill="#F06C64"/>
<circle cx="217.8" cy="209.1" r="0.8" fill="#F06C64"/>
<circle cx="226.2" cy="215.9" r="0.8" fill="#F06C64"/>
<circle cx="185.5" cy="211.1" r="0.8" fill="#13B5B9"/>
<circle cx="181.7" cy="200.1" r="0.8" fill="#13B5B9"/>
<circle cx="205.3" cy="194.8" r="0.8" fill="#F06C64"/>
<circle cx="192.8" cy="210.0" r="0.8" fill="#13B5B9"/>
<circle cx="193.2" cy="202.4" r="0.8" fill="#13B5B9"/>
<circle cx="185.8" cy="212.2" r="0.8" fill="#13B5B9"/>
<circle cx="200.0" cy="223.1" r="0.8" fill="#F06C64"/>
<circle cx="217.6" cy="205.0" r="0.8" fill="#F06C64"/>
<circle cx="212.6" cy="211.6" r="0.8" fill="#F06C64"/>
<circle cx="183.2" cy="181.2" r="0.8" fill="#13B5B9"/>
<circle cx="186.9" cy="215.9" r="0.8" fill="#13B5B9"/>
<circle cx="188.1" cy="193.1" r="0.8" fill="#13B5B9"/>
<circle cx="222.3" cy="181.2" r="0.8" fill="#F06C64"/>
<circle cx="186.7" cy="217.9" r="0.8" fill="#13B5B9"/>
<circle cx="216.4" cy="225.3" r="0.8" fill="#F06C64"/>
<circle cx="207.9" cy="205.4" r="0.8" fill="#F06C64"/>
<circle cx="195.6" cy="209.2" r="0.8" fill="#13B5B9"/>
<circle cx="210.3" cy="195.6" r="0.8" fill="#F06C64"/>
<circle cx="208.8" cy="192.1" r="0.8" fill="#F06C64"/>
<circle cx="204.8" cy="200.6" r="0.8" fill="#F06C64"/>
<circle cx="185.7" cy="196.3" r="0.8" fill="#13B5B9"/>
<circle cx="222.9" cy="198.2" r="0.8" fill="#F06C64"/>
<circle cx="197.0" cy="209.3" r="0.8" fill="#13B5B9"/>
<circle cx="210.4" cy="233.5" r="0.8" fill="#F06C64"/>
<circle cx="217.8" cy="183.8" r="0.8" fill="#F06C64"/>
<circle cx="184.2" cy="188.7" r="0.8" fill="#13B5B9"/>
<circle cx="215.7" cy="173.6" r="0.8" fill="#F06C64"/>
<circle cx="180.5" cy="228.5" r="0.8" fill="#13B5B9"/>
<circle cx="145.5" cy="214.0" r="0.8" fill="#13B5B9"/>
<circle cx="175.2" cy="170.5" r="0.8" fill="#13B5B9"/>
<circle cx="203.5" cy="234.8" r="0.8" fill="#F06C64"/>
<circle cx="197.3" cy="189.3" r="0.8" fill="#13B5B9"/>
<circle cx="205.7" cy="204.5" r="0.8" fill="#F06C64"/>
<circle cx="212.5" cy="196.3" r="0.8" fill="#F06C64"/>
<circle cx="214.8" cy="192.7" r="0.8" fill="#F06C64"/>
<circle cx="195.0" cy="187.0" r="0.8" fill="#13B5B9"/>
<circle cx="210.8" cy="214.6" r="0.8" fill="#F06C64"/>
<circle cx="189.3" cy="199.6" r="0.8" fill="#13B5B9"/>
<circle cx="188.6" cy="208.2" r="0.8" fill="#13B5B9"/>
<circle cx="175.2" cy="179.4" r="0.8" fill="#13B5B9"/>
<circle cx="215.1" cy="203.2" r="0.8" fill="#F06C64"/>
<circle cx="218.6" cy="201.4" r="0.8" fill="#F06C64"/>
<circle cx="193.3" cy="204.8" r="0.8" fill="#13B5B9"/>
<circle cx="193.8" cy="191.4" r="0.8" fill="#13B5B9"/>
<circle cx="174.6" cy="221.5" r="0.8" fill="#13B5B9"/>
<circle cx="205.6" cy="205.3" r="0.8" fill="#F06C64"/>
<circle cx="176.7" cy="194.6" r="0.8" fill="#13B5B9"/>
<circle cx="210.8" cy="238.5" r="0.8" fill="#F06C64"/>
<circle cx="184.0" cy="237.9" r="0.8" fill="#13B5B9"/>
<text transform="translate(265 144.2) scale(0.1)" font-size="65.00" font-weight="bold" text-anchor="start" fill="#000" stroke="#000" stroke-width="1.20">F</text>
<text transform="translate(327.8 140.1) scale(0.1)" font-size="27.00" font-weight="bold" text-anchor="start" fill="#111" stroke="#111" stroke-width="1.20">Risk</text>
<rect x="334.8" y="137.2" width="3.3" height="3.1" fill="#F6C3C0" stroke="#E8434B" stroke-width="0.35"/>
<line x1="335.2" y1="138.8" x2="337.7" y2="138.8" stroke="#E8434B" stroke-width="0.5"/>
<text transform="translate(340.6 140.1) scale(0.1)" font-size="30.00" text-anchor="start" fill="#111" stroke="#111" stroke-width="1.20">C1</text>
<rect x="346" y="137.2" width="3.3" height="3.1" fill="#C2D3EA" stroke="#3F6DB5" stroke-width="0.35"/>
<line x1="346.4" y1="138.8" x2="348.9" y2="138.8" stroke="#3F6DB5" stroke-width="0.5"/>
<text transform="translate(351.9 140.1) scale(0.1)" font-size="30.00" text-anchor="start" fill="#111" stroke="#111" stroke-width="1.20">C2</text>
<polygon points="289.40,148.40 291.48,148.40 291.48,148.63 293.56,148.63 293.56,149.70 295.64,149.70 295.64,150.77 298.21,150.77 298.21,152.53 300.50,152.53 300.50,154.32 302.93,154.32 302.93,156.59 305.35,156.59 305.35,158.86 307.57,158.86 307.57,160.81 310.21,160.81 310.21,163.41 312.29,163.41 312.29,166.20 314.72,166.20 314.72,168.96 317.14,168.96 317.14,171.23 319.22,171.23 319.22,172.79 321.79,172.79 321.79,174.31 324.08,174.31 324.08,175.61 326.16,175.61 326.16,176.43 328.87,176.43 328.87,176.96 332.40,176.96 332.40,177.66 335.87,177.66 335.87,177.98 339.82,177.98 339.82,179.20 343.50,179.20 343.50,179.70 346.97,179.70 346.97,180.71 349.88,180.71 349.88,181.81 355.29,181.81 355.29,182.59 359.45,182.59 359.45,183.38 364.66,183.38 364.66,184.81 377.49,184.81 377.49,184.81 377.49,193.17 377.49,193.17 364.66,193.17 364.66,191.75 359.45,191.75 359.45,190.96 355.29,190.96 355.29,190.07 349.88,190.07 349.88,188.73 346.97,188.73 346.97,187.31 343.50,187.31 343.50,186.36 339.82,186.36 339.82,184.67 335.87,184.67 335.87,183.93 332.40,183.93 332.40,182.80 328.87,182.80 328.87,181.94 326.16,181.94 326.16,180.87 324.08,180.87 324.08,179.30 321.79,179.30 321.79,177.47 319.22,177.47 319.22,175.66 317.14,175.66 317.14,173.09 314.72,173.09 314.72,170.04 312.29,170.04 312.29,167.00 310.21,167.00 310.21,164.08 307.57,164.08 307.57,161.87 305.35,161.87 305.35,159.31 302.93,159.31 302.93,156.74 300.50,156.74 300.50,154.68 298.21,154.68 298.21,152.60 295.64,152.60 295.64,151.28 293.56,151.28 293.56,149.96 291.48,149.96 291.48,148.89 289.40,148.89" fill="#7E9FD4" fill-opacity="0.5"/>
<polygon points="289.40,148.40 291.48,148.40 291.48,148.79 293.56,148.79 293.56,149.92 295.64,149.92 295.64,151.04 298.21,151.04 298.21,152.88 300.50,152.88 300.50,154.98 302.93,154.98 302.93,157.32 305.35,157.32 305.35,160.15 307.57,160.15 307.57,163.00 310.21,163.00 310.21,166.55 312.29,166.55 312.29,169.40 314.72,169.40 314.72,172.14 317.14,172.14 317.14,175.56 319.22,175.56 319.22,178.41 321.79,178.41 321.79,181.23 324.08,181.23 324.08,183.09 326.16,183.09 326.16,184.70 328.87,184.70 328.87,185.65 332.40,185.65 332.40,186.12 335.87,186.12 335.87,186.68 340.03,186.68 340.03,187.51 343.50,187.51 343.50,188.27 346.97,188.27 346.97,188.84 349.88,188.84 349.88,189.09 355.29,189.09 355.29,189.65 359.45,189.65 359.45,190.33 393.44,190.33 393.44,189.88 393.44,195.78 393.44,195.78 359.45,195.78 359.45,194.89 355.29,194.89 355.29,194.06 349.88,194.06 349.88,193.66 346.97,193.66 346.97,192.93 343.50,192.93 343.50,191.99 340.03,191.99 340.03,190.96 335.87,190.96 335.87,190.22 332.40,190.22 332.40,189.58 328.87,189.58 328.87,188.50 326.16,188.50 326.16,186.78 324.08,186.78 324.08,184.74 321.79,184.74 321.79,181.72 319.22,181.72 319.22,178.71 317.14,178.71 317.14,175.10 314.72,175.10 314.72,172.17 312.29,172.17 312.29,169.16 310.21,169.16 310.21,165.40 307.57,165.40 307.57,162.38 305.35,162.38 305.35,159.36 302.93,159.36 302.93,156.83 300.50,156.83 300.50,154.55 298.21,154.55 298.21,152.51 295.64,152.51 295.64,151.22 293.56,151.22 293.56,149.94 291.48,149.94 291.48,148.89 289.40,148.89" fill="#F4858A" fill-opacity="0.5"/>
<polyline points="289.40,148.40 291.48,148.40 291.48,149.38 293.56,149.38 293.56,150.61 295.64,150.61 295.64,151.84 298.21,151.84 298.21,153.81 300.50,153.81 300.50,155.78 302.93,155.78 302.93,158.24 305.35,158.24 305.35,160.70 307.57,160.70 307.57,162.82 310.21,162.82 310.21,165.62 312.29,165.62 312.29,168.57 314.72,168.57 314.72,171.52 317.14,171.52 317.14,173.98 319.22,173.98 319.22,175.71 321.79,175.71 321.79,177.43 324.08,177.43 324.08,178.90 326.16,178.90 326.16,179.89 328.87,179.89 328.87,180.63 332.40,180.63 332.40,181.61 335.87,181.61 335.87,182.20 339.82,182.20 339.82,183.73 343.50,183.73 343.50,184.51 346.97,184.51 346.97,185.79 349.88,185.79 349.88,187.12 355.29,187.12 355.29,188.01 359.45,188.01 359.45,188.79 364.66,188.79 364.66,190.22 377.49,190.22 377.49,190.22" fill="none" stroke="#2E5C9E" stroke-width="0.7"/>
<polyline points="289.40,148.40 291.48,148.40 291.48,149.38 293.56,149.38 293.56,150.61 295.64,150.61 295.64,151.84 298.21,151.84 298.21,153.81 300.50,153.81 300.50,156.03 302.93,156.03 302.93,158.49 305.35,158.49 305.35,161.44 307.57,161.44 307.57,164.39 310.21,164.39 310.21,168.08 312.29,168.08 312.29,171.03 314.72,171.03 314.72,173.89 317.14,173.89 317.14,177.43 319.22,177.43 319.22,180.38 321.79,180.38 321.79,183.33 324.08,183.33 324.08,185.30 326.16,185.30 326.16,187.02 328.87,187.02 328.87,188.10 332.40,188.10 332.40,188.74 335.87,188.74 335.87,189.48 340.03,189.48 340.03,190.52 343.50,190.52 343.50,191.45 346.97,191.45 346.97,192.19 349.88,192.19 349.88,192.58 355.29,192.58 355.29,193.42 359.45,193.42 359.45,194.30 393.44,194.30 393.44,194.30" fill="none" stroke="#E41A22" stroke-width="0.7"/>
<line x1="377.4872" y1="179.5" x2="377.4872" y2="194.3" stroke="#6E8FC8" stroke-width="0.45"/>
<line x1="284.7" y1="145" x2="284.7" y2="200" stroke="#222" stroke-width="0.55"/>
<line x1="284.7" y1="200" x2="398" y2="200" stroke="#222" stroke-width="0.55"/>
<line x1="283.4" y1="148.39999999999998" x2="284.7" y2="148.39999999999998" stroke="#222" stroke-width="0.45"/>
<text transform="translate(283.4 149.64999999999998) scale(0.1)" font-size="36.00" text-anchor="end" fill="#111" stroke="#111" stroke-width="1.20">1.00</text>
<line x1="283.4" y1="160.7" x2="284.7" y2="160.7" stroke="#222" stroke-width="0.45"/>
<text transform="translate(283.4 161.95) scale(0.1)" font-size="36.00" text-anchor="end" fill="#111" stroke="#111" stroke-width="1.20">0.75</text>
<line x1="283.4" y1="173.0" x2="284.7" y2="173.0" stroke="#222" stroke-width="0.45"/>
<text transform="translate(283.4 174.25) scale(0.1)" font-size="36.00" text-anchor="end" fill="#111" stroke="#111" stroke-width="1.20">0.50</text>
<line x1="283.4" y1="185.29999999999998" x2="284.7" y2="185.29999999999998" stroke="#222" stroke-width="0.45"/>
<text transform="translate(283.4 186.54999999999998) scale(0.1)" font-size="36.00" text-anchor="end" fill="#111" stroke="#111" stroke-width="1.20">0.25</text>
<line x1="283.4" y1="197.6" x2="284.7" y2="197.6" stroke="#222" stroke-width="0.45"/>
<text transform="translate(283.4 198.85) scale(0.1)" font-size="36.00" text-anchor="end" fill="#111" stroke="#111" stroke-width="1.20">0.00</text>
<line x1="289.4" y1="200" x2="289.4" y2="201.3" stroke="#222" stroke-width="0.45"/>
<text transform="translate(289.4 205.0) scale(0.1)" font-size="36.00" text-anchor="middle" fill="#111" stroke="#111" stroke-width="1.20">0</text>
<line x1="303.272" y1="200" x2="303.272" y2="201.3" stroke="#222" stroke-width="0.45"/>
<text transform="translate(303.272 205.0) scale(0.1)" font-size="36.00" text-anchor="middle" fill="#111" stroke="#111" stroke-width="1.20">2</text>
<line x1="317.144" y1="200" x2="317.144" y2="201.3" stroke="#222" stroke-width="0.45"/>
<text transform="translate(317.144 205.0) scale(0.1)" font-size="36.00" text-anchor="middle" fill="#111" stroke="#111" stroke-width="1.20">4</text>
<line x1="331.01599999999996" y1="200" x2="331.01599999999996" y2="201.3" stroke="#222" stroke-width="0.45"/>
<text transform="translate(331.01599999999996 205.0) scale(0.1)" font-size="36.00" text-anchor="middle" fill="#111" stroke="#111" stroke-width="1.20">6</text>
<line x1="344.888" y1="200" x2="344.888" y2="201.3" stroke="#222" stroke-width="0.45"/>
<text transform="translate(344.888 205.0) scale(0.1)" font-size="36.00" text-anchor="middle" fill="#111" stroke="#111" stroke-width="1.20">8</text>
<line x1="358.76" y1="200" x2="358.76" y2="201.3" stroke="#222" stroke-width="0.45"/>
<text transform="translate(358.76 205.0) scale(0.1)" font-size="36.00" text-anchor="middle" fill="#111" stroke="#111" stroke-width="1.20">10</text>
<line x1="372.63199999999995" y1="200" x2="372.63199999999995" y2="201.3" stroke="#222" stroke-width="0.45"/>
<text transform="translate(372.63199999999995 205.0) scale(0.1)" font-size="36.00" text-anchor="middle" fill="#111" stroke="#111" stroke-width="1.20">12</text>
<line x1="386.50399999999996" y1="200" x2="386.50399999999996" y2="201.3" stroke="#222" stroke-width="0.45"/>
<text transform="translate(386.50399999999996 205.0) scale(0.1)" font-size="36.00" text-anchor="middle" fill="#111" stroke="#111" stroke-width="1.20">14</text>
<text transform="translate(341.5 209.8) scale(0.1)" font-size="37.00" text-anchor="middle" fill="#111" stroke="#111" stroke-width="1.20">Time(years)</text>
<text transform="translate(275.3 173.1) rotate(-90) scale(0.1)" font-size="37.00" text-anchor="middle" fill="#111" stroke="#111" stroke-width="1.20">Survival probability</text>
<text transform="translate(292 189.6) scale(0.1)" font-size="33.00" text-anchor="start" fill="#111" stroke="#111" stroke-width="1.20">p=4.839e-05</text>
<line x1="284.3" y1="218.5" x2="284.3" y2="242.6" stroke="#222" stroke-width="0.55"/>
<line x1="284.3" y1="242.6" x2="398" y2="242.6" stroke="#222" stroke-width="0.55"/>
<line x1="289.4" y1="242.6" x2="289.4" y2="243.8" stroke="#222" stroke-width="0.45"/>
<text transform="translate(289.4 246.6) scale(0.1)" font-size="36.00" text-anchor="middle" fill="#111" stroke="#111" stroke-width="1.20">0</text>
<line x1="303.272" y1="242.6" x2="303.272" y2="243.8" stroke="#222" stroke-width="0.45"/>
<text transform="translate(303.272 246.6) scale(0.1)" font-size="36.00" text-anchor="middle" fill="#111" stroke="#111" stroke-width="1.20">2</text>
<line x1="317.144" y1="242.6" x2="317.144" y2="243.8" stroke="#222" stroke-width="0.45"/>
<text transform="translate(317.144 246.6) scale(0.1)" font-size="36.00" text-anchor="middle" fill="#111" stroke="#111" stroke-width="1.20">4</text>
<line x1="331.01599999999996" y1="242.6" x2="331.01599999999996" y2="243.8" stroke="#222" stroke-width="0.45"/>
<text transform="translate(331.01599999999996 246.6) scale(0.1)" font-size="36.00" text-anchor="middle" fill="#111" stroke="#111" stroke-width="1.20">6</text>
<line x1="344.888" y1="242.6" x2="344.888" y2="243.8" stroke="#222" stroke-width="0.45"/>
<text transform="translate(344.888 246.6) scale(0.1)" font-size="36.00" text-anchor="middle" fill="#111" stroke="#111" stroke-width="1.20">8</text>
<line x1="358.76" y1="242.6" x2="358.76" y2="243.8" stroke="#222" stroke-width="0.45"/>
<text transform="translate(358.76 246.6) scale(0.1)" font-size="36.00" text-anchor="middle" fill="#111" stroke="#111" stroke-width="1.20">10</text>
<line x1="372.63199999999995" y1="242.6" x2="372.63199999999995" y2="243.8" stroke="#222" stroke-width="0.45"/>
<text transform="translate(372.63199999999995 246.6) scale(0.1)" font-size="36.00" text-anchor="middle" fill="#111" stroke="#111" stroke-width="1.20">12</text>
<line x1="386.50399999999996" y1="242.6" x2="386.50399999999996" y2="243.8" stroke="#222" stroke-width="0.45"/>
<text transform="translate(386.50399999999996 246.6) scale(0.1)" font-size="36.00" text-anchor="middle" fill="#111" stroke="#111" stroke-width="1.20">14</text>
<text transform="translate(341.5 251.6) scale(0.1)" font-size="37.00" text-anchor="middle" fill="#111" stroke="#111" stroke-width="1.20">Time(years)</text>
<text transform="translate(274.5 230.6) rotate(-90) scale(0.1)" font-size="36.00" font-weight="bold" text-anchor="middle" fill="#111" stroke="#111" stroke-width="1.20">Risk</text>
<text transform="translate(289.4 226.7) scale(0.1)" font-size="38.00" text-anchor="middle" fill="#111" stroke="#111" stroke-width="1.20">225</text>
<text transform="translate(289.4 237.6) scale(0.1)" font-size="38.00" text-anchor="middle" fill="#111" stroke="#111" stroke-width="1.20">152</text>
<text transform="translate(303.272 226.7) scale(0.1)" font-size="38.00" text-anchor="middle" fill="#111" stroke="#111" stroke-width="1.20">136</text>
<text transform="translate(303.272 237.6) scale(0.1)" font-size="38.00" text-anchor="middle" fill="#111" stroke="#111" stroke-width="1.20">102</text>
<text transform="translate(317.144 226.7) scale(0.1)" font-size="38.00" text-anchor="middle" fill="#111" stroke="#111" stroke-width="1.20">61</text>
<text transform="translate(317.144 237.6) scale(0.1)" font-size="38.00" text-anchor="middle" fill="#111" stroke="#111" stroke-width="1.20">54</text>
<text transform="translate(331.01599999999996 226.7) scale(0.1)" font-size="38.00" text-anchor="middle" fill="#111" stroke="#111" stroke-width="1.20">19</text>
<text transform="translate(331.01599999999996 237.6) scale(0.1)" font-size="38.00" text-anchor="middle" fill="#111" stroke="#111" stroke-width="1.20">30</text>
<text transform="translate(344.888 226.7) scale(0.1)" font-size="38.00" text-anchor="middle" fill="#111" stroke="#111" stroke-width="1.20">8</text>
<text transform="translate(344.888 237.6) scale(0.1)" font-size="38.00" text-anchor="middle" fill="#111" stroke="#111" stroke-width="1.20">14</text>
<text transform="translate(358.76 226.7) scale(0.1)" font-size="38.00" text-anchor="middle" fill="#111" stroke="#111" stroke-width="1.20">2</text>
<text transform="translate(358.76 237.6) scale(0.1)" font-size="38.00" text-anchor="middle" fill="#111" stroke="#111" stroke-width="1.20">7</text>
<text transform="translate(372.63199999999995 226.7) scale(0.1)" font-size="38.00" text-anchor="middle" fill="#111" stroke="#111" stroke-width="1.20">1</text>
<text transform="translate(372.63199999999995 237.6) scale(0.1)" font-size="38.00" text-anchor="middle" fill="#111" stroke="#111" stroke-width="1.20">2</text>
<text transform="translate(386.50399999999996 226.7) scale(0.1)" font-size="38.00" text-anchor="middle" fill="#111" stroke="#111" stroke-width="1.20">1</text>
<text transform="translate(386.50399999999996 237.6) scale(0.1)" font-size="38.00" text-anchor="middle" fill="#111" stroke="#111" stroke-width="1.20">0</text>
<text transform="translate(280.1 226.2) scale(0.1)" font-size="30.00" text-anchor="middle" fill="#F07070" stroke="#F07070" stroke-width="1.20">C1</text>
<line x1="282.6" y1="225.1" x2="284.3" y2="225.1" stroke="#222" stroke-width="0.45"/>
<text transform="translate(280.1 236.8) scale(0.1)" font-size="30.00" text-anchor="middle" fill="#9DB3DA" stroke="#9DB3DA" stroke-width="1.20">C2</text>
<line x1="282.6" y1="235.8" x2="284.3" y2="235.8" stroke="#222" stroke-width="0.45"/>
</svg>
</body></html>
